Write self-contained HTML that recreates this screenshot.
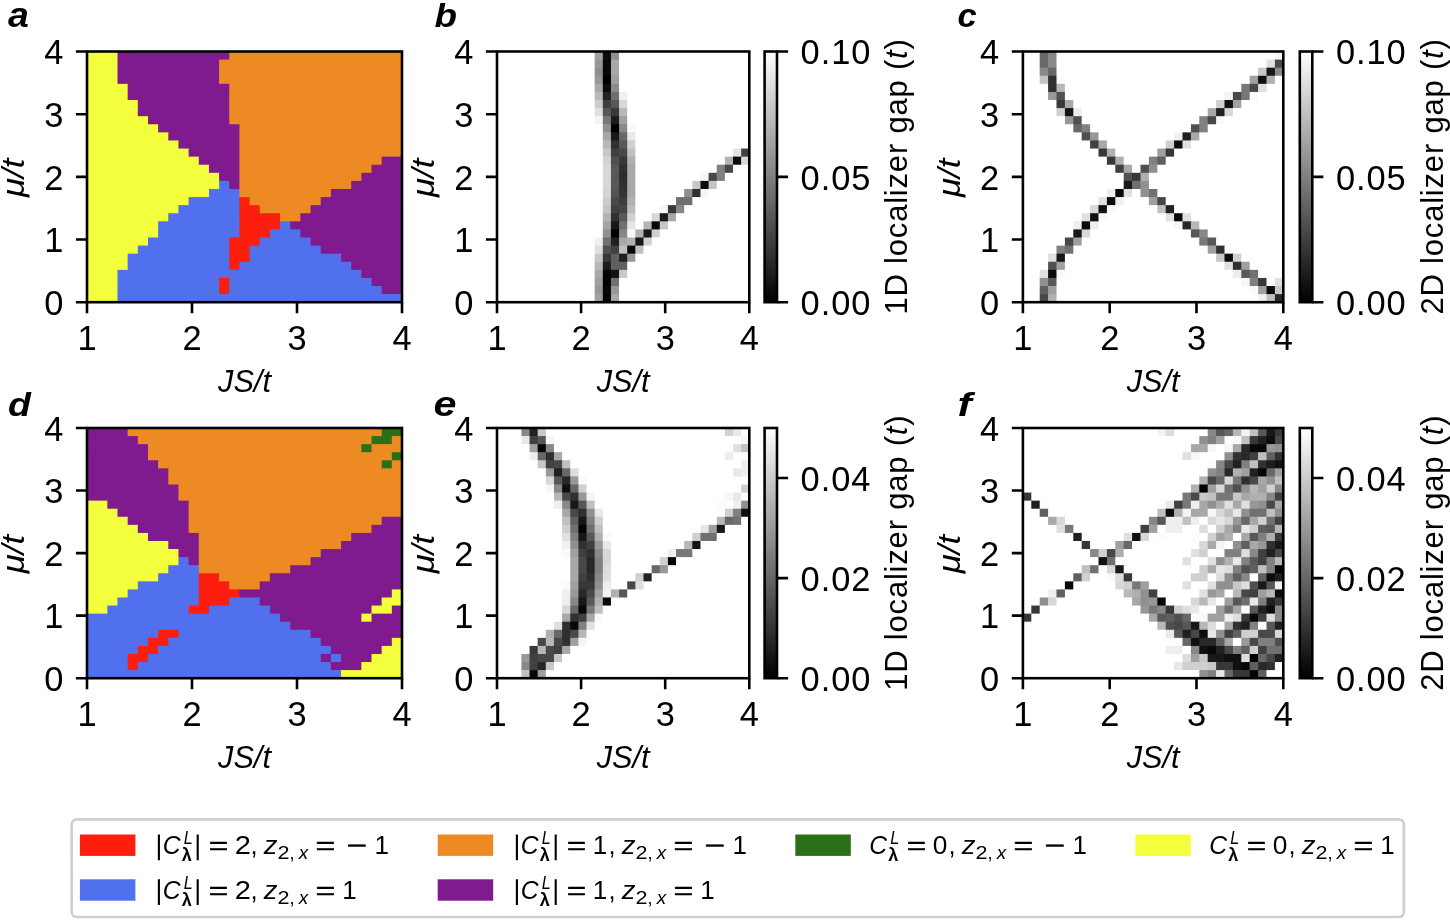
<!DOCTYPE html>
<html><head><meta charset="utf-8"><title>figure</title>
<style>html,body{margin:0;padding:0;background:#fff;}svg{display:block;will-change:transform;}</style></head>
<body>
<svg width="1450" height="922" viewBox="0 0 1450 922" font-family='"Liberation Sans", sans-serif' fill="#000">
<defs><linearGradient id="gr" x1="0" y1="1" x2="0" y2="0"><stop offset="0" stop-color="#000"/><stop offset="1" stop-color="#fff"/></linearGradient></defs>
<rect width="1450" height="922" fill="#fff"/>
<g>
<g><rect x="87" y="51.5" width="31.18" height="8.79" fill="#f3ff3d"/><rect x="117.48" y="51.5" width="112.47" height="8.79" fill="#7f1a8f"/><rect x="229.26" y="51.5" width="172.74" height="8.79" fill="#ee8a23"/><rect x="87" y="59.59" width="31.18" height="8.79" fill="#f3ff3d"/><rect x="117.48" y="59.59" width="102.31" height="8.79" fill="#7f1a8f"/><rect x="219.1" y="59.59" width="182.9" height="8.79" fill="#ee8a23"/><rect x="87" y="67.67" width="31.18" height="8.79" fill="#f3ff3d"/><rect x="117.48" y="67.67" width="102.31" height="8.79" fill="#7f1a8f"/><rect x="219.1" y="67.67" width="182.9" height="8.79" fill="#ee8a23"/><rect x="87" y="75.76" width="31.18" height="8.79" fill="#f3ff3d"/><rect x="117.48" y="75.76" width="102.31" height="8.79" fill="#7f1a8f"/><rect x="219.1" y="75.76" width="182.9" height="8.79" fill="#ee8a23"/><rect x="87" y="83.85" width="41.35" height="8.79" fill="#f3ff3d"/><rect x="127.65" y="83.85" width="102.31" height="8.79" fill="#7f1a8f"/><rect x="229.26" y="83.85" width="172.74" height="8.79" fill="#ee8a23"/><rect x="87" y="91.94" width="41.35" height="8.79" fill="#f3ff3d"/><rect x="127.65" y="91.94" width="102.31" height="8.79" fill="#7f1a8f"/><rect x="229.26" y="91.94" width="172.74" height="8.79" fill="#ee8a23"/><rect x="87" y="100.02" width="51.51" height="8.79" fill="#f3ff3d"/><rect x="137.81" y="100.02" width="92.15" height="8.79" fill="#7f1a8f"/><rect x="229.26" y="100.02" width="172.74" height="8.79" fill="#ee8a23"/><rect x="87" y="108.11" width="51.51" height="8.79" fill="#f3ff3d"/><rect x="137.81" y="108.11" width="92.15" height="8.79" fill="#7f1a8f"/><rect x="229.26" y="108.11" width="172.74" height="8.79" fill="#ee8a23"/><rect x="87" y="116.2" width="61.67" height="8.79" fill="#f3ff3d"/><rect x="147.97" y="116.2" width="81.99" height="8.79" fill="#7f1a8f"/><rect x="229.26" y="116.2" width="172.74" height="8.79" fill="#ee8a23"/><rect x="87" y="124.28" width="71.83" height="8.79" fill="#f3ff3d"/><rect x="158.13" y="124.28" width="81.99" height="8.79" fill="#7f1a8f"/><rect x="239.42" y="124.28" width="162.58" height="8.79" fill="#ee8a23"/><rect x="87" y="132.37" width="81.99" height="8.79" fill="#f3ff3d"/><rect x="168.29" y="132.37" width="71.83" height="8.79" fill="#7f1a8f"/><rect x="239.42" y="132.37" width="162.58" height="8.79" fill="#ee8a23"/><rect x="87" y="140.46" width="92.15" height="8.79" fill="#f3ff3d"/><rect x="178.45" y="140.46" width="61.67" height="8.79" fill="#7f1a8f"/><rect x="239.42" y="140.46" width="162.58" height="8.79" fill="#ee8a23"/><rect x="87" y="148.55" width="102.31" height="8.79" fill="#f3ff3d"/><rect x="188.61" y="148.55" width="51.51" height="8.79" fill="#7f1a8f"/><rect x="239.42" y="148.55" width="162.58" height="8.79" fill="#ee8a23"/><rect x="87" y="156.63" width="112.47" height="8.79" fill="#f3ff3d"/><rect x="198.77" y="156.63" width="41.35" height="8.79" fill="#7f1a8f"/><rect x="239.42" y="156.63" width="142.96" height="8.79" fill="#ee8a23"/><rect x="381.68" y="156.63" width="20.32" height="8.79" fill="#7f1a8f"/><rect x="87" y="164.72" width="122.64" height="8.79" fill="#f3ff3d"/><rect x="208.94" y="164.72" width="31.18" height="8.79" fill="#7f1a8f"/><rect x="239.42" y="164.72" width="132.8" height="8.79" fill="#ee8a23"/><rect x="371.52" y="164.72" width="30.48" height="8.79" fill="#7f1a8f"/><rect x="87" y="172.81" width="132.8" height="8.79" fill="#f3ff3d"/><rect x="219.1" y="172.81" width="21.02" height="8.79" fill="#7f1a8f"/><rect x="239.42" y="172.81" width="122.64" height="8.79" fill="#ee8a23"/><rect x="361.35" y="172.81" width="40.65" height="8.79" fill="#7f1a8f"/><rect x="87" y="180.89" width="132.8" height="8.79" fill="#f3ff3d"/><rect x="219.1" y="180.89" width="10.86" height="8.79" fill="#5170ee"/><rect x="229.26" y="180.89" width="10.86" height="8.79" fill="#7f1a8f"/><rect x="239.42" y="180.89" width="112.47" height="8.79" fill="#ee8a23"/><rect x="351.19" y="180.89" width="50.81" height="8.79" fill="#7f1a8f"/><rect x="87" y="188.98" width="122.64" height="8.79" fill="#f3ff3d"/><rect x="208.94" y="188.98" width="31.18" height="8.79" fill="#5170ee"/><rect x="239.42" y="188.98" width="92.15" height="8.79" fill="#ee8a23"/><rect x="330.87" y="188.98" width="71.13" height="8.79" fill="#7f1a8f"/><rect x="87" y="197.07" width="102.31" height="8.79" fill="#f3ff3d"/><rect x="188.61" y="197.07" width="51.51" height="8.79" fill="#5170ee"/><rect x="239.42" y="197.07" width="10.86" height="8.79" fill="#fe1e0d"/><rect x="249.58" y="197.07" width="71.83" height="8.79" fill="#ee8a23"/><rect x="320.71" y="197.07" width="81.29" height="8.79" fill="#7f1a8f"/><rect x="87" y="205.15" width="92.15" height="8.79" fill="#f3ff3d"/><rect x="178.45" y="205.15" width="61.67" height="8.79" fill="#5170ee"/><rect x="239.42" y="205.15" width="21.02" height="8.79" fill="#fe1e0d"/><rect x="259.74" y="205.15" width="51.51" height="8.79" fill="#ee8a23"/><rect x="310.55" y="205.15" width="91.45" height="8.79" fill="#7f1a8f"/><rect x="87" y="213.24" width="81.99" height="8.79" fill="#f3ff3d"/><rect x="168.29" y="213.24" width="71.83" height="8.79" fill="#5170ee"/><rect x="239.42" y="213.24" width="41.35" height="8.79" fill="#fe1e0d"/><rect x="280.06" y="213.24" width="21.02" height="8.79" fill="#ee8a23"/><rect x="300.39" y="213.24" width="101.61" height="8.79" fill="#7f1a8f"/><rect x="87" y="221.33" width="71.83" height="8.79" fill="#f3ff3d"/><rect x="158.13" y="221.33" width="81.99" height="8.79" fill="#5170ee"/><rect x="239.42" y="221.33" width="41.35" height="8.79" fill="#fe1e0d"/><rect x="280.06" y="221.33" width="10.86" height="8.79" fill="#5170ee"/><rect x="290.23" y="221.33" width="111.77" height="8.79" fill="#7f1a8f"/><rect x="87" y="229.42" width="71.83" height="8.79" fill="#f3ff3d"/><rect x="158.13" y="229.42" width="81.99" height="8.79" fill="#5170ee"/><rect x="239.42" y="229.42" width="31.18" height="8.79" fill="#fe1e0d"/><rect x="269.9" y="229.42" width="31.18" height="8.79" fill="#5170ee"/><rect x="300.39" y="229.42" width="101.61" height="8.79" fill="#7f1a8f"/><rect x="87" y="237.5" width="61.67" height="8.79" fill="#f3ff3d"/><rect x="147.97" y="237.5" width="81.99" height="8.79" fill="#5170ee"/><rect x="229.26" y="237.5" width="31.18" height="8.79" fill="#fe1e0d"/><rect x="259.74" y="237.5" width="51.51" height="8.79" fill="#5170ee"/><rect x="310.55" y="237.5" width="91.45" height="8.79" fill="#7f1a8f"/><rect x="87" y="245.59" width="51.51" height="8.79" fill="#f3ff3d"/><rect x="137.81" y="245.59" width="92.15" height="8.79" fill="#5170ee"/><rect x="229.26" y="245.59" width="21.02" height="8.79" fill="#fe1e0d"/><rect x="249.58" y="245.59" width="71.83" height="8.79" fill="#5170ee"/><rect x="320.71" y="245.59" width="81.29" height="8.79" fill="#7f1a8f"/><rect x="87" y="253.68" width="41.35" height="8.79" fill="#f3ff3d"/><rect x="127.65" y="253.68" width="102.31" height="8.79" fill="#5170ee"/><rect x="229.26" y="253.68" width="21.02" height="8.79" fill="#fe1e0d"/><rect x="249.58" y="253.68" width="92.15" height="8.79" fill="#5170ee"/><rect x="341.03" y="253.68" width="60.97" height="8.79" fill="#7f1a8f"/><rect x="87" y="261.76" width="41.35" height="8.79" fill="#f3ff3d"/><rect x="127.65" y="261.76" width="102.31" height="8.79" fill="#5170ee"/><rect x="229.26" y="261.76" width="10.86" height="8.79" fill="#fe1e0d"/><rect x="239.42" y="261.76" width="112.47" height="8.79" fill="#5170ee"/><rect x="351.19" y="261.76" width="50.81" height="8.79" fill="#7f1a8f"/><rect x="87" y="269.85" width="31.18" height="8.79" fill="#f3ff3d"/><rect x="117.48" y="269.85" width="244.57" height="8.79" fill="#5170ee"/><rect x="361.35" y="269.85" width="40.65" height="8.79" fill="#7f1a8f"/><rect x="87" y="277.94" width="31.18" height="8.79" fill="#f3ff3d"/><rect x="117.48" y="277.94" width="102.31" height="8.79" fill="#5170ee"/><rect x="219.1" y="277.94" width="10.86" height="8.79" fill="#fe1e0d"/><rect x="229.26" y="277.94" width="142.96" height="8.79" fill="#5170ee"/><rect x="371.52" y="277.94" width="30.48" height="8.79" fill="#7f1a8f"/><rect x="87" y="286.03" width="31.18" height="8.79" fill="#f3ff3d"/><rect x="117.48" y="286.03" width="102.31" height="8.79" fill="#5170ee"/><rect x="219.1" y="286.03" width="10.86" height="8.79" fill="#fe1e0d"/><rect x="229.26" y="286.03" width="153.12" height="8.79" fill="#5170ee"/><rect x="381.68" y="286.03" width="20.32" height="8.79" fill="#7f1a8f"/><rect x="87" y="294.11" width="31.18" height="8.09" fill="#f3ff3d"/><rect x="117.48" y="294.11" width="284.52" height="8.09" fill="#5170ee"/></g>
<g><rect x="87" y="428" width="41.35" height="8.77" fill="#7f1a8f"/><rect x="127.65" y="428" width="254.73" height="8.77" fill="#ee8a23"/><rect x="381.68" y="428" width="20.32" height="8.77" fill="#2b6f17"/><rect x="87" y="436.07" width="51.51" height="8.77" fill="#7f1a8f"/><rect x="137.81" y="436.07" width="234.41" height="8.77" fill="#ee8a23"/><rect x="371.52" y="436.07" width="21.02" height="8.77" fill="#2b6f17"/><rect x="391.84" y="436.07" width="10.16" height="8.77" fill="#ee8a23"/><rect x="87" y="444.14" width="61.67" height="8.77" fill="#7f1a8f"/><rect x="147.97" y="444.14" width="214.09" height="8.77" fill="#ee8a23"/><rect x="361.35" y="444.14" width="10.86" height="8.77" fill="#2b6f17"/><rect x="371.52" y="444.14" width="30.48" height="8.77" fill="#ee8a23"/><rect x="87" y="452.21" width="61.67" height="8.77" fill="#7f1a8f"/><rect x="147.97" y="452.21" width="244.57" height="8.77" fill="#ee8a23"/><rect x="391.84" y="452.21" width="10.16" height="8.77" fill="#2b6f17"/><rect x="87" y="460.28" width="71.83" height="8.77" fill="#7f1a8f"/><rect x="158.13" y="460.28" width="224.25" height="8.77" fill="#ee8a23"/><rect x="381.68" y="460.28" width="10.86" height="8.77" fill="#2b6f17"/><rect x="391.84" y="460.28" width="10.16" height="8.77" fill="#ee8a23"/><rect x="87" y="468.35" width="81.99" height="8.77" fill="#7f1a8f"/><rect x="168.29" y="468.35" width="233.71" height="8.77" fill="#ee8a23"/><rect x="87" y="476.43" width="81.99" height="8.77" fill="#7f1a8f"/><rect x="168.29" y="476.43" width="233.71" height="8.77" fill="#ee8a23"/><rect x="87" y="484.5" width="92.15" height="8.77" fill="#7f1a8f"/><rect x="178.45" y="484.5" width="223.55" height="8.77" fill="#ee8a23"/><rect x="87" y="492.57" width="92.15" height="8.77" fill="#7f1a8f"/><rect x="178.45" y="492.57" width="223.55" height="8.77" fill="#ee8a23"/><rect x="87" y="500.64" width="21.02" height="8.77" fill="#f3ff3d"/><rect x="107.32" y="500.64" width="81.99" height="8.77" fill="#7f1a8f"/><rect x="188.61" y="500.64" width="213.39" height="8.77" fill="#ee8a23"/><rect x="87" y="508.71" width="31.18" height="8.77" fill="#f3ff3d"/><rect x="117.48" y="508.71" width="71.83" height="8.77" fill="#7f1a8f"/><rect x="188.61" y="508.71" width="213.39" height="8.77" fill="#ee8a23"/><rect x="87" y="516.78" width="41.35" height="8.77" fill="#f3ff3d"/><rect x="127.65" y="516.78" width="61.67" height="8.77" fill="#7f1a8f"/><rect x="188.61" y="516.78" width="193.76" height="8.77" fill="#ee8a23"/><rect x="381.68" y="516.78" width="20.32" height="8.77" fill="#7f1a8f"/><rect x="87" y="524.85" width="51.51" height="8.77" fill="#f3ff3d"/><rect x="137.81" y="524.85" width="51.51" height="8.77" fill="#7f1a8f"/><rect x="188.61" y="524.85" width="183.6" height="8.77" fill="#ee8a23"/><rect x="371.52" y="524.85" width="30.48" height="8.77" fill="#7f1a8f"/><rect x="87" y="532.92" width="61.67" height="8.77" fill="#f3ff3d"/><rect x="147.97" y="532.92" width="51.51" height="8.77" fill="#7f1a8f"/><rect x="198.77" y="532.92" width="153.12" height="8.77" fill="#ee8a23"/><rect x="351.19" y="532.92" width="50.81" height="8.77" fill="#7f1a8f"/><rect x="87" y="540.99" width="81.99" height="8.77" fill="#f3ff3d"/><rect x="168.29" y="540.99" width="31.18" height="8.77" fill="#7f1a8f"/><rect x="198.77" y="540.99" width="142.96" height="8.77" fill="#ee8a23"/><rect x="341.03" y="540.99" width="60.97" height="8.77" fill="#7f1a8f"/><rect x="87" y="549.06" width="92.15" height="8.77" fill="#f3ff3d"/><rect x="178.45" y="549.06" width="21.02" height="8.77" fill="#7f1a8f"/><rect x="198.77" y="549.06" width="122.64" height="8.77" fill="#ee8a23"/><rect x="320.71" y="549.06" width="81.29" height="8.77" fill="#7f1a8f"/><rect x="87" y="557.14" width="92.15" height="8.77" fill="#f3ff3d"/><rect x="178.45" y="557.14" width="10.86" height="8.77" fill="#5170ee"/><rect x="188.61" y="557.14" width="10.86" height="8.77" fill="#7f1a8f"/><rect x="198.77" y="557.14" width="112.47" height="8.77" fill="#ee8a23"/><rect x="310.55" y="557.14" width="91.45" height="8.77" fill="#7f1a8f"/><rect x="87" y="565.21" width="81.99" height="8.77" fill="#f3ff3d"/><rect x="168.29" y="565.21" width="31.18" height="8.77" fill="#5170ee"/><rect x="198.77" y="565.21" width="92.15" height="8.77" fill="#ee8a23"/><rect x="290.23" y="565.21" width="111.77" height="8.77" fill="#7f1a8f"/><rect x="87" y="573.28" width="71.83" height="8.77" fill="#f3ff3d"/><rect x="158.13" y="573.28" width="41.35" height="8.77" fill="#5170ee"/><rect x="198.77" y="573.28" width="21.02" height="8.77" fill="#fe1e0d"/><rect x="219.1" y="573.28" width="51.51" height="8.77" fill="#ee8a23"/><rect x="269.9" y="573.28" width="132.1" height="8.77" fill="#7f1a8f"/><rect x="87" y="581.35" width="51.51" height="8.77" fill="#f3ff3d"/><rect x="137.81" y="581.35" width="61.67" height="8.77" fill="#5170ee"/><rect x="198.77" y="581.35" width="31.18" height="8.77" fill="#fe1e0d"/><rect x="229.26" y="581.35" width="31.18" height="8.77" fill="#ee8a23"/><rect x="259.74" y="581.35" width="142.26" height="8.77" fill="#7f1a8f"/><rect x="87" y="589.42" width="41.35" height="8.77" fill="#f3ff3d"/><rect x="127.65" y="589.42" width="71.83" height="8.77" fill="#5170ee"/><rect x="198.77" y="589.42" width="41.35" height="8.77" fill="#fe1e0d"/><rect x="239.42" y="589.42" width="153.12" height="8.77" fill="#7f1a8f"/><rect x="391.84" y="589.42" width="10.16" height="8.77" fill="#f3ff3d"/><rect x="87" y="597.49" width="31.18" height="8.77" fill="#f3ff3d"/><rect x="117.48" y="597.49" width="81.99" height="8.77" fill="#5170ee"/><rect x="198.77" y="597.49" width="31.18" height="8.77" fill="#fe1e0d"/><rect x="229.26" y="597.49" width="31.18" height="8.77" fill="#5170ee"/><rect x="259.74" y="597.49" width="122.64" height="8.77" fill="#7f1a8f"/><rect x="381.68" y="597.49" width="20.32" height="8.77" fill="#f3ff3d"/><rect x="87" y="605.56" width="21.02" height="8.77" fill="#f3ff3d"/><rect x="107.32" y="605.56" width="81.99" height="8.77" fill="#5170ee"/><rect x="188.61" y="605.56" width="21.02" height="8.77" fill="#fe1e0d"/><rect x="208.94" y="605.56" width="61.67" height="8.77" fill="#5170ee"/><rect x="269.9" y="605.56" width="102.31" height="8.77" fill="#7f1a8f"/><rect x="371.52" y="605.56" width="21.02" height="8.77" fill="#f3ff3d"/><rect x="391.84" y="605.56" width="10.16" height="8.77" fill="#7f1a8f"/><rect x="87" y="613.63" width="193.76" height="8.77" fill="#5170ee"/><rect x="280.06" y="613.63" width="81.99" height="8.77" fill="#7f1a8f"/><rect x="361.35" y="613.63" width="10.86" height="8.77" fill="#f3ff3d"/><rect x="371.52" y="613.63" width="30.48" height="8.77" fill="#7f1a8f"/><rect x="87" y="621.7" width="203.93" height="8.77" fill="#5170ee"/><rect x="290.23" y="621.7" width="111.77" height="8.77" fill="#7f1a8f"/><rect x="87" y="629.77" width="71.83" height="8.77" fill="#5170ee"/><rect x="158.13" y="629.77" width="21.02" height="8.77" fill="#fe1e0d"/><rect x="178.45" y="629.77" width="132.8" height="8.77" fill="#5170ee"/><rect x="310.55" y="629.77" width="91.45" height="8.77" fill="#7f1a8f"/><rect x="87" y="637.85" width="61.67" height="8.77" fill="#5170ee"/><rect x="147.97" y="637.85" width="21.02" height="8.77" fill="#fe1e0d"/><rect x="168.29" y="637.85" width="153.12" height="8.77" fill="#5170ee"/><rect x="320.71" y="637.85" width="71.83" height="8.77" fill="#7f1a8f"/><rect x="391.84" y="637.85" width="10.16" height="8.77" fill="#f3ff3d"/><rect x="87" y="645.92" width="51.51" height="8.77" fill="#5170ee"/><rect x="137.81" y="645.92" width="21.02" height="8.77" fill="#fe1e0d"/><rect x="158.13" y="645.92" width="173.44" height="8.77" fill="#5170ee"/><rect x="330.87" y="645.92" width="51.51" height="8.77" fill="#7f1a8f"/><rect x="381.68" y="645.92" width="20.32" height="8.77" fill="#f3ff3d"/><rect x="87" y="653.99" width="41.35" height="8.77" fill="#5170ee"/><rect x="127.65" y="653.99" width="21.02" height="8.77" fill="#fe1e0d"/><rect x="147.97" y="653.99" width="173.44" height="8.77" fill="#5170ee"/><rect x="320.71" y="653.99" width="10.86" height="8.77" fill="#7f1a8f"/><rect x="330.87" y="653.99" width="10.86" height="8.77" fill="#5170ee"/><rect x="341.03" y="653.99" width="31.18" height="8.77" fill="#7f1a8f"/><rect x="371.52" y="653.99" width="30.48" height="8.77" fill="#f3ff3d"/><rect x="87" y="662.06" width="41.35" height="8.77" fill="#5170ee"/><rect x="127.65" y="662.06" width="10.86" height="8.77" fill="#fe1e0d"/><rect x="137.81" y="662.06" width="193.76" height="8.77" fill="#5170ee"/><rect x="330.87" y="662.06" width="31.18" height="8.77" fill="#7f1a8f"/><rect x="361.35" y="662.06" width="40.65" height="8.77" fill="#f3ff3d"/><rect x="87" y="670.13" width="254.73" height="8.07" fill="#5170ee"/><rect x="341.03" y="670.13" width="60.97" height="8.07" fill="#f3ff3d"/></g>
<g><rect x="497" y="51.5" width="98.36" height="8.79" fill="#ffffff"/><rect x="594.66" y="51.5" width="8.84" height="8.79" fill="#a0a0a0"/><rect x="602.8" y="51.5" width="8.84" height="8.79" fill="#0c0c0c"/><rect x="610.94" y="51.5" width="8.84" height="8.79" fill="#909090"/><rect x="619.08" y="51.5" width="130.22" height="8.79" fill="#ffffff"/><rect x="497" y="59.59" width="98.36" height="8.79" fill="#ffffff"/><rect x="594.66" y="59.59" width="8.84" height="8.79" fill="#989898"/><rect x="602.8" y="59.59" width="8.84" height="8.79" fill="#080808"/><rect x="610.94" y="59.59" width="8.84" height="8.79" fill="#a8a8a8"/><rect x="619.08" y="59.59" width="130.22" height="8.79" fill="#ffffff"/><rect x="497" y="67.67" width="98.36" height="8.79" fill="#ffffff"/><rect x="594.66" y="67.67" width="8.84" height="8.79" fill="#909090"/><rect x="602.8" y="67.67" width="8.84" height="8.79" fill="#080808"/><rect x="610.94" y="67.67" width="8.84" height="8.79" fill="#a8a8a8"/><rect x="619.08" y="67.67" width="130.22" height="8.79" fill="#ffffff"/><rect x="497" y="75.76" width="98.36" height="8.79" fill="#ffffff"/><rect x="594.66" y="75.76" width="8.84" height="8.79" fill="#989898"/><rect x="602.8" y="75.76" width="8.84" height="8.79" fill="#000000"/><rect x="610.94" y="75.76" width="8.84" height="8.79" fill="#a0a0a0"/><rect x="619.08" y="75.76" width="130.22" height="8.79" fill="#ffffff"/><rect x="497" y="83.85" width="98.36" height="8.79" fill="#ffffff"/><rect x="594.66" y="83.85" width="8.84" height="8.79" fill="#a8a8a8"/><rect x="602.8" y="83.85" width="8.84" height="8.79" fill="#0c0c0c"/><rect x="610.94" y="83.85" width="8.84" height="8.79" fill="#8c8c8c"/><rect x="619.08" y="83.85" width="130.22" height="8.79" fill="#ffffff"/><rect x="497" y="91.94" width="98.36" height="8.79" fill="#ffffff"/><rect x="594.66" y="91.94" width="8.84" height="8.79" fill="#b8b8b8"/><rect x="602.8" y="91.94" width="8.84" height="8.79" fill="#222222"/><rect x="610.94" y="91.94" width="8.84" height="8.79" fill="#707070"/><rect x="619.08" y="91.94" width="8.84" height="8.79" fill="#f0f0f0"/><rect x="627.22" y="91.94" width="122.08" height="8.79" fill="#ffffff"/><rect x="497" y="100.02" width="98.36" height="8.79" fill="#ffffff"/><rect x="594.66" y="100.02" width="8.84" height="8.79" fill="#cccccc"/><rect x="602.8" y="100.02" width="8.84" height="8.79" fill="#404040"/><rect x="610.94" y="100.02" width="8.84" height="8.79" fill="#585858"/><rect x="619.08" y="100.02" width="8.84" height="8.79" fill="#d8d8d8"/><rect x="627.22" y="100.02" width="122.08" height="8.79" fill="#ffffff"/><rect x="497" y="108.11" width="98.36" height="8.79" fill="#ffffff"/><rect x="594.66" y="108.11" width="8.84" height="8.79" fill="#e0e0e0"/><rect x="602.8" y="108.11" width="8.84" height="8.79" fill="#585858"/><rect x="610.94" y="108.11" width="8.84" height="8.79" fill="#383838"/><rect x="619.08" y="108.11" width="8.84" height="8.79" fill="#b8b8b8"/><rect x="627.22" y="108.11" width="122.08" height="8.79" fill="#ffffff"/><rect x="497" y="116.2" width="98.36" height="8.79" fill="#ffffff"/><rect x="594.66" y="116.2" width="8.84" height="8.79" fill="#f4f4f4"/><rect x="602.8" y="116.2" width="8.84" height="8.79" fill="#787878"/><rect x="610.94" y="116.2" width="8.84" height="8.79" fill="#1c1c1c"/><rect x="619.08" y="116.2" width="8.84" height="8.79" fill="#a0a0a0"/><rect x="627.22" y="116.2" width="122.08" height="8.79" fill="#ffffff"/><rect x="497" y="124.28" width="106.5" height="8.79" fill="#ffffff"/><rect x="602.8" y="124.28" width="8.84" height="8.79" fill="#909090"/><rect x="610.94" y="124.28" width="8.84" height="8.79" fill="#000000"/><rect x="619.08" y="124.28" width="8.84" height="8.79" fill="#888888"/><rect x="627.22" y="124.28" width="8.84" height="8.79" fill="#fafafa"/><rect x="635.36" y="124.28" width="113.94" height="8.79" fill="#ffffff"/><rect x="497" y="132.37" width="106.5" height="8.79" fill="#ffffff"/><rect x="602.8" y="132.37" width="8.84" height="8.79" fill="#a8a8a8"/><rect x="610.94" y="132.37" width="8.84" height="8.79" fill="#1a1a1a"/><rect x="619.08" y="132.37" width="8.84" height="8.79" fill="#686868"/><rect x="627.22" y="132.37" width="8.84" height="8.79" fill="#e8e8e8"/><rect x="635.36" y="132.37" width="113.94" height="8.79" fill="#ffffff"/><rect x="497" y="140.46" width="106.5" height="8.79" fill="#ffffff"/><rect x="602.8" y="140.46" width="8.84" height="8.79" fill="#b8b8b8"/><rect x="610.94" y="140.46" width="8.84" height="8.79" fill="#303030"/><rect x="619.08" y="140.46" width="8.84" height="8.79" fill="#585858"/><rect x="627.22" y="140.46" width="8.84" height="8.79" fill="#d0d0d0"/><rect x="635.36" y="140.46" width="113.94" height="8.79" fill="#ffffff"/><rect x="497" y="148.55" width="106.5" height="8.79" fill="#ffffff"/><rect x="602.8" y="148.55" width="8.84" height="8.79" fill="#c8c8c8"/><rect x="610.94" y="148.55" width="8.84" height="8.79" fill="#404040"/><rect x="619.08" y="148.55" width="8.84" height="8.79" fill="#484848"/><rect x="627.22" y="148.55" width="8.84" height="8.79" fill="#c0c0c0"/><rect x="635.36" y="148.55" width="98.36" height="8.79" fill="#ffffff"/><rect x="733.02" y="148.55" width="8.84" height="8.79" fill="#e4e4e4"/><rect x="741.16" y="148.55" width="8.14" height="8.79" fill="#404040"/><rect x="497" y="156.63" width="106.5" height="8.79" fill="#ffffff"/><rect x="602.8" y="156.63" width="8.84" height="8.79" fill="#d4d4d4"/><rect x="610.94" y="156.63" width="8.84" height="8.79" fill="#505050"/><rect x="619.08" y="156.63" width="8.84" height="8.79" fill="#383838"/><rect x="627.22" y="156.63" width="8.84" height="8.79" fill="#b0b0b0"/><rect x="635.36" y="156.63" width="90.23" height="8.79" fill="#ffffff"/><rect x="724.88" y="156.63" width="8.84" height="8.79" fill="#b4b4b4"/><rect x="733.02" y="156.63" width="8.84" height="8.79" fill="#0c0c0c"/><rect x="741.16" y="156.63" width="8.14" height="8.79" fill="#d8d8d8"/><rect x="497" y="164.72" width="106.5" height="8.79" fill="#ffffff"/><rect x="602.8" y="164.72" width="8.84" height="8.79" fill="#d8d8d8"/><rect x="610.94" y="164.72" width="8.84" height="8.79" fill="#585858"/><rect x="619.08" y="164.72" width="8.84" height="8.79" fill="#303030"/><rect x="627.22" y="164.72" width="8.84" height="8.79" fill="#a8a8a8"/><rect x="635.36" y="164.72" width="82.09" height="8.79" fill="#ffffff"/><rect x="716.75" y="164.72" width="8.84" height="8.79" fill="#808080"/><rect x="724.88" y="164.72" width="8.84" height="8.79" fill="#484848"/><rect x="733.02" y="164.72" width="16.28" height="8.79" fill="#ffffff"/><rect x="497" y="172.81" width="106.5" height="8.79" fill="#ffffff"/><rect x="602.8" y="172.81" width="8.84" height="8.79" fill="#d8d8d8"/><rect x="610.94" y="172.81" width="8.84" height="8.79" fill="#585858"/><rect x="619.08" y="172.81" width="8.84" height="8.79" fill="#2c2c2c"/><rect x="627.22" y="172.81" width="8.84" height="8.79" fill="#a8a8a8"/><rect x="635.36" y="172.81" width="65.81" height="8.79" fill="#ffffff"/><rect x="700.47" y="172.81" width="8.84" height="8.79" fill="#f4f4f4"/><rect x="708.61" y="172.81" width="8.84" height="8.79" fill="#484848"/><rect x="716.75" y="172.81" width="8.84" height="8.79" fill="#808080"/><rect x="724.88" y="172.81" width="24.42" height="8.79" fill="#ffffff"/><rect x="497" y="180.89" width="106.5" height="8.79" fill="#ffffff"/><rect x="602.8" y="180.89" width="8.84" height="8.79" fill="#d8d8d8"/><rect x="610.94" y="180.89" width="8.84" height="8.79" fill="#585858"/><rect x="619.08" y="180.89" width="8.84" height="8.79" fill="#303030"/><rect x="627.22" y="180.89" width="8.84" height="8.79" fill="#a8a8a8"/><rect x="635.36" y="180.89" width="57.67" height="8.79" fill="#ffffff"/><rect x="692.33" y="180.89" width="8.84" height="8.79" fill="#c8c8c8"/><rect x="700.47" y="180.89" width="8.84" height="8.79" fill="#0c0c0c"/><rect x="708.61" y="180.89" width="8.84" height="8.79" fill="#c4c4c4"/><rect x="716.75" y="180.89" width="32.55" height="8.79" fill="#ffffff"/><rect x="497" y="188.98" width="106.5" height="8.79" fill="#ffffff"/><rect x="602.8" y="188.98" width="8.84" height="8.79" fill="#d4d4d4"/><rect x="610.94" y="188.98" width="8.84" height="8.79" fill="#545454"/><rect x="619.08" y="188.98" width="8.84" height="8.79" fill="#343434"/><rect x="627.22" y="188.98" width="8.84" height="8.79" fill="#a8a8a8"/><rect x="635.36" y="188.98" width="49.53" height="8.79" fill="#ffffff"/><rect x="684.19" y="188.98" width="8.84" height="8.79" fill="#909090"/><rect x="692.33" y="188.98" width="8.84" height="8.79" fill="#303030"/><rect x="700.47" y="188.98" width="8.84" height="8.79" fill="#f6f6f6"/><rect x="708.61" y="188.98" width="40.69" height="8.79" fill="#ffffff"/><rect x="497" y="197.07" width="106.5" height="8.79" fill="#ffffff"/><rect x="602.8" y="197.07" width="8.84" height="8.79" fill="#cccccc"/><rect x="610.94" y="197.07" width="8.84" height="8.79" fill="#484848"/><rect x="619.08" y="197.07" width="8.84" height="8.79" fill="#3c3c3c"/><rect x="627.22" y="197.07" width="8.84" height="8.79" fill="#b0b0b0"/><rect x="635.36" y="197.07" width="41.39" height="8.79" fill="#ffffff"/><rect x="676.05" y="197.07" width="16.98" height="8.79" fill="#707070"/><rect x="692.33" y="197.07" width="56.97" height="8.79" fill="#ffffff"/><rect x="497" y="205.15" width="106.5" height="8.79" fill="#ffffff"/><rect x="602.8" y="205.15" width="8.84" height="8.79" fill="#c4c4c4"/><rect x="610.94" y="205.15" width="8.84" height="8.79" fill="#404040"/><rect x="619.08" y="205.15" width="8.84" height="8.79" fill="#444444"/><rect x="627.22" y="205.15" width="8.84" height="8.79" fill="#bcbcbc"/><rect x="635.36" y="205.15" width="25.12" height="8.79" fill="#ffffff"/><rect x="659.77" y="205.15" width="8.84" height="8.79" fill="#f6f6f6"/><rect x="667.91" y="205.15" width="8.84" height="8.79" fill="#383838"/><rect x="676.05" y="205.15" width="8.84" height="8.79" fill="#888888"/><rect x="684.19" y="205.15" width="65.11" height="8.79" fill="#ffffff"/><rect x="497" y="213.24" width="106.5" height="8.79" fill="#ffffff"/><rect x="602.8" y="213.24" width="8.84" height="8.79" fill="#b4b4b4"/><rect x="610.94" y="213.24" width="8.84" height="8.79" fill="#303030"/><rect x="619.08" y="213.24" width="8.84" height="8.79" fill="#585858"/><rect x="627.22" y="213.24" width="8.84" height="8.79" fill="#d0d0d0"/><rect x="635.36" y="213.24" width="16.98" height="8.79" fill="#ffffff"/><rect x="651.64" y="213.24" width="8.84" height="8.79" fill="#d8d8d8"/><rect x="659.77" y="213.24" width="8.84" height="8.79" fill="#181818"/><rect x="667.91" y="213.24" width="8.84" height="8.79" fill="#a8a8a8"/><rect x="676.05" y="213.24" width="73.25" height="8.79" fill="#ffffff"/><rect x="497" y="221.33" width="106.5" height="8.79" fill="#ffffff"/><rect x="602.8" y="221.33" width="8.84" height="8.79" fill="#a4a4a4"/><rect x="610.94" y="221.33" width="8.84" height="8.79" fill="#181818"/><rect x="619.08" y="221.33" width="8.84" height="8.79" fill="#707070"/><rect x="627.22" y="221.33" width="8.84" height="8.79" fill="#e4e4e4"/><rect x="635.36" y="221.33" width="8.84" height="8.79" fill="#ffffff"/><rect x="643.5" y="221.33" width="8.84" height="8.79" fill="#b4b4b4"/><rect x="651.64" y="221.33" width="8.84" height="8.79" fill="#080808"/><rect x="659.77" y="221.33" width="8.84" height="8.79" fill="#c6c6c6"/><rect x="667.91" y="221.33" width="81.39" height="8.79" fill="#ffffff"/><rect x="497" y="229.42" width="106.5" height="8.79" fill="#ffffff"/><rect x="602.8" y="229.42" width="8.84" height="8.79" fill="#909090"/><rect x="610.94" y="229.42" width="8.84" height="8.79" fill="#000000"/><rect x="619.08" y="229.42" width="8.84" height="8.79" fill="#888888"/><rect x="627.22" y="229.42" width="8.84" height="8.79" fill="#fafafa"/><rect x="635.36" y="229.42" width="8.84" height="8.79" fill="#b0b0b0"/><rect x="643.5" y="229.42" width="8.84" height="8.79" fill="#181818"/><rect x="651.64" y="229.42" width="8.84" height="8.79" fill="#d0d0d0"/><rect x="659.77" y="229.42" width="89.53" height="8.79" fill="#ffffff"/><rect x="497" y="237.5" width="98.36" height="8.79" fill="#ffffff"/><rect x="594.66" y="237.5" width="8.84" height="8.79" fill="#f0f0f0"/><rect x="602.8" y="237.5" width="8.84" height="8.79" fill="#707070"/><rect x="610.94" y="237.5" width="8.84" height="8.79" fill="#202020"/><rect x="619.08" y="237.5" width="8.84" height="8.79" fill="#a8a8a8"/><rect x="627.22" y="237.5" width="8.84" height="8.79" fill="#b0b0b0"/><rect x="635.36" y="237.5" width="8.84" height="8.79" fill="#181818"/><rect x="643.5" y="237.5" width="8.84" height="8.79" fill="#d0d0d0"/><rect x="651.64" y="237.5" width="97.66" height="8.79" fill="#ffffff"/><rect x="497" y="245.59" width="98.36" height="8.79" fill="#ffffff"/><rect x="594.66" y="245.59" width="8.84" height="8.79" fill="#e0e0e0"/><rect x="602.8" y="245.59" width="8.84" height="8.79" fill="#505050"/><rect x="610.94" y="245.59" width="8.84" height="8.79" fill="#404040"/><rect x="619.08" y="245.59" width="8.84" height="8.79" fill="#c0c0c0"/><rect x="627.22" y="245.59" width="8.84" height="8.79" fill="#080808"/><rect x="635.36" y="245.59" width="8.84" height="8.79" fill="#c0c0c0"/><rect x="643.5" y="245.59" width="105.8" height="8.79" fill="#ffffff"/><rect x="497" y="253.68" width="98.36" height="8.79" fill="#ffffff"/><rect x="594.66" y="253.68" width="8.84" height="8.79" fill="#c8c8c8"/><rect x="602.8" y="253.68" width="8.84" height="8.79" fill="#383838"/><rect x="610.94" y="253.68" width="8.84" height="8.79" fill="#606060"/><rect x="619.08" y="253.68" width="8.84" height="8.79" fill="#202020"/><rect x="627.22" y="253.68" width="8.84" height="8.79" fill="#989898"/><rect x="635.36" y="253.68" width="113.94" height="8.79" fill="#ffffff"/><rect x="497" y="261.76" width="98.36" height="8.79" fill="#ffffff"/><rect x="594.66" y="261.76" width="8.84" height="8.79" fill="#b8b8b8"/><rect x="602.8" y="261.76" width="8.84" height="8.79" fill="#1c1c1c"/><rect x="610.94" y="261.76" width="16.98" height="8.79" fill="#606060"/><rect x="627.22" y="261.76" width="122.08" height="8.79" fill="#ffffff"/><rect x="497" y="269.85" width="98.36" height="8.79" fill="#ffffff"/><rect x="594.66" y="269.85" width="8.84" height="8.79" fill="#a8a8a8"/><rect x="602.8" y="269.85" width="8.84" height="8.79" fill="#040404"/><rect x="610.94" y="269.85" width="8.84" height="8.79" fill="#141414"/><rect x="619.08" y="269.85" width="8.84" height="8.79" fill="#c8c8c8"/><rect x="627.22" y="269.85" width="122.08" height="8.79" fill="#ffffff"/><rect x="497" y="277.94" width="98.36" height="8.79" fill="#ffffff"/><rect x="594.66" y="277.94" width="8.84" height="8.79" fill="#a0a0a0"/><rect x="602.8" y="277.94" width="8.84" height="8.79" fill="#040404"/><rect x="610.94" y="277.94" width="8.84" height="8.79" fill="#707070"/><rect x="619.08" y="277.94" width="130.22" height="8.79" fill="#ffffff"/><rect x="497" y="286.03" width="98.36" height="8.79" fill="#ffffff"/><rect x="594.66" y="286.03" width="8.84" height="8.79" fill="#989898"/><rect x="602.8" y="286.03" width="8.84" height="8.79" fill="#080808"/><rect x="610.94" y="286.03" width="8.84" height="8.79" fill="#989898"/><rect x="619.08" y="286.03" width="130.22" height="8.79" fill="#ffffff"/><rect x="497" y="294.11" width="98.36" height="8.09" fill="#ffffff"/><rect x="594.66" y="294.11" width="8.84" height="8.09" fill="#a0a0a0"/><rect x="602.8" y="294.11" width="8.84" height="8.09" fill="#040404"/><rect x="610.94" y="294.11" width="8.84" height="8.09" fill="#a8a8a8"/><rect x="619.08" y="294.11" width="130.22" height="8.09" fill="#ffffff"/></g>
<g><rect x="497" y="428" width="25.12" height="8.77" fill="#ffffff"/><rect x="521.42" y="428" width="8.84" height="8.77" fill="#888888"/><rect x="529.55" y="428" width="8.84" height="8.77" fill="#202020"/><rect x="537.69" y="428" width="8.84" height="8.77" fill="#c8c8c8"/><rect x="545.83" y="428" width="179.75" height="8.77" fill="#ffffff"/><rect x="724.88" y="428" width="8.84" height="8.77" fill="#d0d0d0"/><rect x="733.02" y="428" width="8.84" height="8.77" fill="#e8e8e8"/><rect x="741.16" y="428" width="8.14" height="8.77" fill="#ffffff"/><rect x="497" y="436.07" width="25.12" height="8.77" fill="#ffffff"/><rect x="521.42" y="436.07" width="8.84" height="8.77" fill="#e8e8e8"/><rect x="529.55" y="436.07" width="8.84" height="8.77" fill="#404040"/><rect x="537.69" y="436.07" width="8.84" height="8.77" fill="#585858"/><rect x="545.83" y="436.07" width="8.84" height="8.77" fill="#f6f6f6"/><rect x="553.97" y="436.07" width="187.89" height="8.77" fill="#ffffff"/><rect x="741.16" y="436.07" width="8.14" height="8.77" fill="#f6f6f6"/><rect x="497" y="444.14" width="33.25" height="8.77" fill="#ffffff"/><rect x="529.55" y="444.14" width="8.84" height="8.77" fill="#a0a0a0"/><rect x="537.69" y="444.14" width="8.84" height="8.77" fill="#080808"/><rect x="545.83" y="444.14" width="8.84" height="8.77" fill="#888888"/><rect x="553.97" y="444.14" width="179.75" height="8.77" fill="#ffffff"/><rect x="733.02" y="444.14" width="8.84" height="8.77" fill="#e0e0e0"/><rect x="741.16" y="444.14" width="8.14" height="8.77" fill="#c0c0c0"/><rect x="497" y="452.21" width="33.25" height="8.77" fill="#ffffff"/><rect x="529.55" y="452.21" width="8.84" height="8.77" fill="#eeeeee"/><rect x="537.69" y="452.21" width="8.84" height="8.77" fill="#686868"/><rect x="545.83" y="452.21" width="8.84" height="8.77" fill="#303030"/><rect x="553.97" y="452.21" width="8.84" height="8.77" fill="#a8a8a8"/><rect x="562.11" y="452.21" width="163.47" height="8.77" fill="#ffffff"/><rect x="724.88" y="452.21" width="8.84" height="8.77" fill="#eeeeee"/><rect x="733.02" y="452.21" width="16.28" height="8.77" fill="#ffffff"/><rect x="497" y="460.28" width="41.39" height="8.77" fill="#ffffff"/><rect x="537.69" y="460.28" width="8.84" height="8.77" fill="#c8c8c8"/><rect x="545.83" y="460.28" width="8.84" height="8.77" fill="#404040"/><rect x="553.97" y="460.28" width="8.84" height="8.77" fill="#484848"/><rect x="562.11" y="460.28" width="8.84" height="8.77" fill="#c0c0c0"/><rect x="570.25" y="460.28" width="171.61" height="8.77" fill="#ffffff"/><rect x="741.16" y="460.28" width="8.14" height="8.77" fill="#eeeeee"/><rect x="497" y="468.35" width="49.53" height="8.77" fill="#ffffff"/><rect x="545.83" y="468.35" width="8.84" height="8.77" fill="#989898"/><rect x="553.97" y="468.35" width="8.84" height="8.77" fill="#202020"/><rect x="562.11" y="468.35" width="8.84" height="8.77" fill="#686868"/><rect x="570.25" y="468.35" width="8.84" height="8.77" fill="#dddddd"/><rect x="578.39" y="468.35" width="155.34" height="8.77" fill="#ffffff"/><rect x="733.02" y="468.35" width="8.84" height="8.77" fill="#e8e8e8"/><rect x="741.16" y="468.35" width="8.14" height="8.77" fill="#eeeeee"/><rect x="497" y="476.43" width="49.53" height="8.77" fill="#ffffff"/><rect x="545.83" y="476.43" width="8.84" height="8.77" fill="#d8d8d8"/><rect x="553.97" y="476.43" width="8.84" height="8.77" fill="#585858"/><rect x="562.11" y="476.43" width="8.84" height="8.77" fill="#282828"/><rect x="570.25" y="476.43" width="8.84" height="8.77" fill="#989898"/><rect x="578.39" y="476.43" width="8.84" height="8.77" fill="#fafafa"/><rect x="586.53" y="476.43" width="162.77" height="8.77" fill="#ffffff"/><rect x="497" y="484.5" width="49.53" height="8.77" fill="#ffffff"/><rect x="545.83" y="484.5" width="8.84" height="8.77" fill="#f6f6f6"/><rect x="553.97" y="484.5" width="8.84" height="8.77" fill="#888888"/><rect x="562.11" y="484.5" width="8.84" height="8.77" fill="#101010"/><rect x="570.25" y="484.5" width="8.84" height="8.77" fill="#686868"/><rect x="578.39" y="484.5" width="8.84" height="8.77" fill="#d0d0d0"/><rect x="586.53" y="484.5" width="155.34" height="8.77" fill="#ffffff"/><rect x="741.16" y="484.5" width="8.14" height="8.77" fill="#d0d0d0"/><rect x="497" y="492.57" width="57.67" height="8.77" fill="#ffffff"/><rect x="553.97" y="492.57" width="8.84" height="8.77" fill="#b8b8b8"/><rect x="562.11" y="492.57" width="8.84" height="8.77" fill="#484848"/><rect x="570.25" y="492.57" width="8.84" height="8.77" fill="#303030"/><rect x="578.39" y="492.57" width="8.84" height="8.77" fill="#989898"/><rect x="586.53" y="492.57" width="8.84" height="8.77" fill="#f4f4f4"/><rect x="594.66" y="492.57" width="130.92" height="8.77" fill="#ffffff"/><rect x="724.88" y="492.57" width="8.84" height="8.77" fill="#f6f6f6"/><rect x="733.02" y="492.57" width="8.84" height="8.77" fill="#e8e8e8"/><rect x="741.16" y="492.57" width="8.14" height="8.77" fill="#ffffff"/><rect x="497" y="500.64" width="57.67" height="8.77" fill="#ffffff"/><rect x="553.97" y="500.64" width="8.84" height="8.77" fill="#eeeeee"/><rect x="562.11" y="500.64" width="8.84" height="8.77" fill="#888888"/><rect x="570.25" y="500.64" width="8.84" height="8.77" fill="#181818"/><rect x="578.39" y="500.64" width="8.84" height="8.77" fill="#585858"/><rect x="586.53" y="500.64" width="8.84" height="8.77" fill="#c0c0c0"/><rect x="594.66" y="500.64" width="122.78" height="8.77" fill="#ffffff"/><rect x="716.75" y="500.64" width="8.84" height="8.77" fill="#fcfcfc"/><rect x="724.88" y="500.64" width="8.84" height="8.77" fill="#ffffff"/><rect x="733.02" y="500.64" width="8.84" height="8.77" fill="#f0f0f0"/><rect x="741.16" y="500.64" width="8.14" height="8.77" fill="#909090"/><rect x="497" y="508.71" width="65.81" height="8.77" fill="#ffffff"/><rect x="562.11" y="508.71" width="8.84" height="8.77" fill="#a8a8a8"/><rect x="570.25" y="508.71" width="8.84" height="8.77" fill="#484848"/><rect x="578.39" y="508.71" width="8.84" height="8.77" fill="#303030"/><rect x="586.53" y="508.71" width="8.84" height="8.77" fill="#909090"/><rect x="594.66" y="508.71" width="8.84" height="8.77" fill="#e8e8e8"/><rect x="602.8" y="508.71" width="122.78" height="8.77" fill="#ffffff"/><rect x="724.88" y="508.71" width="8.84" height="8.77" fill="#d0d0d0"/><rect x="733.02" y="508.71" width="8.84" height="8.77" fill="#808080"/><rect x="741.16" y="508.71" width="8.14" height="8.77" fill="#101010"/><rect x="497" y="516.78" width="65.81" height="8.77" fill="#ffffff"/><rect x="562.11" y="516.78" width="8.84" height="8.77" fill="#c0c0c0"/><rect x="570.25" y="516.78" width="8.84" height="8.77" fill="#606060"/><rect x="578.39" y="516.78" width="8.84" height="8.77" fill="#181818"/><rect x="586.53" y="516.78" width="8.84" height="8.77" fill="#808080"/><rect x="594.66" y="516.78" width="8.84" height="8.77" fill="#d0d0d0"/><rect x="602.8" y="516.78" width="114.64" height="8.77" fill="#ffffff"/><rect x="716.75" y="516.78" width="8.84" height="8.77" fill="#b8b8b8"/><rect x="724.88" y="516.78" width="8.84" height="8.77" fill="#686868"/><rect x="733.02" y="516.78" width="8.84" height="8.77" fill="#707070"/><rect x="741.16" y="516.78" width="8.14" height="8.77" fill="#ffffff"/><rect x="497" y="524.85" width="65.81" height="8.77" fill="#ffffff"/><rect x="562.11" y="524.85" width="8.84" height="8.77" fill="#d0d0d0"/><rect x="570.25" y="524.85" width="8.84" height="8.77" fill="#707070"/><rect x="578.39" y="524.85" width="8.84" height="8.77" fill="#040404"/><rect x="586.53" y="524.85" width="8.84" height="8.77" fill="#707070"/><rect x="594.66" y="524.85" width="8.84" height="8.77" fill="#c0c0c0"/><rect x="602.8" y="524.85" width="98.36" height="8.77" fill="#ffffff"/><rect x="700.47" y="524.85" width="8.84" height="8.77" fill="#e8e8e8"/><rect x="708.61" y="524.85" width="8.84" height="8.77" fill="#a0a0a0"/><rect x="716.75" y="524.85" width="8.84" height="8.77" fill="#181818"/><rect x="724.88" y="524.85" width="24.42" height="8.77" fill="#ffffff"/><rect x="497" y="532.92" width="65.81" height="8.77" fill="#ffffff"/><rect x="562.11" y="532.92" width="8.84" height="8.77" fill="#e0e0e0"/><rect x="570.25" y="532.92" width="8.84" height="8.77" fill="#808080"/><rect x="578.39" y="532.92" width="8.84" height="8.77" fill="#181818"/><rect x="586.53" y="532.92" width="8.84" height="8.77" fill="#585858"/><rect x="594.66" y="532.92" width="8.84" height="8.77" fill="#b0b0b0"/><rect x="602.8" y="532.92" width="8.84" height="8.77" fill="#fafafa"/><rect x="610.94" y="532.92" width="82.09" height="8.77" fill="#ffffff"/><rect x="692.33" y="532.92" width="8.84" height="8.77" fill="#d0d0d0"/><rect x="700.47" y="532.92" width="16.98" height="8.77" fill="#707070"/><rect x="716.75" y="532.92" width="32.55" height="8.77" fill="#ffffff"/><rect x="497" y="540.99" width="65.81" height="8.77" fill="#ffffff"/><rect x="562.11" y="540.99" width="8.84" height="8.77" fill="#f0f0f0"/><rect x="570.25" y="540.99" width="8.84" height="8.77" fill="#909090"/><rect x="578.39" y="540.99" width="8.84" height="8.77" fill="#303030"/><rect x="586.53" y="540.99" width="8.84" height="8.77" fill="#404040"/><rect x="594.66" y="540.99" width="8.84" height="8.77" fill="#989898"/><rect x="602.8" y="540.99" width="8.84" height="8.77" fill="#e8e8e8"/><rect x="610.94" y="540.99" width="73.95" height="8.77" fill="#ffffff"/><rect x="684.19" y="540.99" width="8.84" height="8.77" fill="#b8b8b8"/><rect x="692.33" y="540.99" width="8.84" height="8.77" fill="#141414"/><rect x="700.47" y="540.99" width="48.83" height="8.77" fill="#ffffff"/><rect x="497" y="549.06" width="65.81" height="8.77" fill="#ffffff"/><rect x="562.11" y="549.06" width="8.84" height="8.77" fill="#fafafa"/><rect x="570.25" y="549.06" width="8.84" height="8.77" fill="#a0a0a0"/><rect x="578.39" y="549.06" width="8.84" height="8.77" fill="#404040"/><rect x="586.53" y="549.06" width="8.84" height="8.77" fill="#303030"/><rect x="594.66" y="549.06" width="8.84" height="8.77" fill="#888888"/><rect x="602.8" y="549.06" width="8.84" height="8.77" fill="#d8d8d8"/><rect x="610.94" y="549.06" width="57.67" height="8.77" fill="#ffffff"/><rect x="667.91" y="549.06" width="8.84" height="8.77" fill="#eeeeee"/><rect x="676.05" y="549.06" width="16.98" height="8.77" fill="#787878"/><rect x="692.33" y="549.06" width="56.97" height="8.77" fill="#ffffff"/><rect x="497" y="557.14" width="73.95" height="8.77" fill="#ffffff"/><rect x="570.25" y="557.14" width="8.84" height="8.77" fill="#a8a8a8"/><rect x="578.39" y="557.14" width="8.84" height="8.77" fill="#484848"/><rect x="586.53" y="557.14" width="8.84" height="8.77" fill="#282828"/><rect x="594.66" y="557.14" width="8.84" height="8.77" fill="#808080"/><rect x="602.8" y="557.14" width="8.84" height="8.77" fill="#d8d8d8"/><rect x="610.94" y="557.14" width="49.53" height="8.77" fill="#ffffff"/><rect x="659.77" y="557.14" width="8.84" height="8.77" fill="#d0d0d0"/><rect x="667.91" y="557.14" width="8.84" height="8.77" fill="#040404"/><rect x="676.05" y="557.14" width="73.25" height="8.77" fill="#ffffff"/><rect x="497" y="565.21" width="73.95" height="8.77" fill="#ffffff"/><rect x="570.25" y="565.21" width="8.84" height="8.77" fill="#a8a8a8"/><rect x="578.39" y="565.21" width="8.84" height="8.77" fill="#484848"/><rect x="586.53" y="565.21" width="8.84" height="8.77" fill="#282828"/><rect x="594.66" y="565.21" width="8.84" height="8.77" fill="#808080"/><rect x="602.8" y="565.21" width="8.84" height="8.77" fill="#dddddd"/><rect x="610.94" y="565.21" width="41.39" height="8.77" fill="#ffffff"/><rect x="651.64" y="565.21" width="8.84" height="8.77" fill="#686868"/><rect x="659.77" y="565.21" width="8.84" height="8.77" fill="#989898"/><rect x="667.91" y="565.21" width="81.39" height="8.77" fill="#ffffff"/><rect x="497" y="573.28" width="73.95" height="8.77" fill="#ffffff"/><rect x="570.25" y="573.28" width="8.84" height="8.77" fill="#a8a8a8"/><rect x="578.39" y="573.28" width="8.84" height="8.77" fill="#404040"/><rect x="586.53" y="573.28" width="8.84" height="8.77" fill="#303030"/><rect x="594.66" y="573.28" width="8.84" height="8.77" fill="#888888"/><rect x="602.8" y="573.28" width="8.84" height="8.77" fill="#e0e0e0"/><rect x="610.94" y="573.28" width="25.12" height="8.77" fill="#ffffff"/><rect x="635.36" y="573.28" width="8.84" height="8.77" fill="#d0d0d0"/><rect x="643.5" y="573.28" width="8.84" height="8.77" fill="#202020"/><rect x="651.64" y="573.28" width="97.66" height="8.77" fill="#ffffff"/><rect x="497" y="581.35" width="65.81" height="8.77" fill="#ffffff"/><rect x="562.11" y="581.35" width="8.84" height="8.77" fill="#fafafa"/><rect x="570.25" y="581.35" width="8.84" height="8.77" fill="#a0a0a0"/><rect x="578.39" y="581.35" width="16.98" height="8.77" fill="#383838"/><rect x="594.66" y="581.35" width="8.84" height="8.77" fill="#909090"/><rect x="602.8" y="581.35" width="8.84" height="8.77" fill="#eeeeee"/><rect x="610.94" y="581.35" width="16.98" height="8.77" fill="#ffffff"/><rect x="627.22" y="581.35" width="8.84" height="8.77" fill="#484848"/><rect x="635.36" y="581.35" width="8.84" height="8.77" fill="#dddddd"/><rect x="643.5" y="581.35" width="105.8" height="8.77" fill="#ffffff"/><rect x="497" y="589.42" width="65.81" height="8.77" fill="#ffffff"/><rect x="562.11" y="589.42" width="8.84" height="8.77" fill="#f0f0f0"/><rect x="570.25" y="589.42" width="8.84" height="8.77" fill="#989898"/><rect x="578.39" y="589.42" width="8.84" height="8.77" fill="#282828"/><rect x="586.53" y="589.42" width="8.84" height="8.77" fill="#484848"/><rect x="594.66" y="589.42" width="8.84" height="8.77" fill="#a0a0a0"/><rect x="602.8" y="589.42" width="8.84" height="8.77" fill="#f4f4f4"/><rect x="610.94" y="589.42" width="8.84" height="8.77" fill="#b0b0b0"/><rect x="619.08" y="589.42" width="8.84" height="8.77" fill="#585858"/><rect x="627.22" y="589.42" width="122.08" height="8.77" fill="#ffffff"/><rect x="497" y="597.49" width="65.81" height="8.77" fill="#ffffff"/><rect x="562.11" y="597.49" width="8.84" height="8.77" fill="#eeeeee"/><rect x="570.25" y="597.49" width="8.84" height="8.77" fill="#888888"/><rect x="578.39" y="597.49" width="8.84" height="8.77" fill="#181818"/><rect x="586.53" y="597.49" width="8.84" height="8.77" fill="#585858"/><rect x="594.66" y="597.49" width="8.84" height="8.77" fill="#b0b0b0"/><rect x="602.8" y="597.49" width="8.84" height="8.77" fill="#080808"/><rect x="610.94" y="597.49" width="138.36" height="8.77" fill="#ffffff"/><rect x="497" y="605.56" width="65.81" height="8.77" fill="#ffffff"/><rect x="562.11" y="605.56" width="8.84" height="8.77" fill="#d8d8d8"/><rect x="570.25" y="605.56" width="8.84" height="8.77" fill="#686868"/><rect x="578.39" y="605.56" width="8.84" height="8.77" fill="#080808"/><rect x="586.53" y="605.56" width="8.84" height="8.77" fill="#787878"/><rect x="594.66" y="605.56" width="8.84" height="8.77" fill="#c0c0c0"/><rect x="602.8" y="605.56" width="146.5" height="8.77" fill="#ffffff"/><rect x="497" y="613.63" width="65.81" height="8.77" fill="#ffffff"/><rect x="562.11" y="613.63" width="8.84" height="8.77" fill="#a8a8a8"/><rect x="570.25" y="613.63" width="8.84" height="8.77" fill="#303030"/><rect x="578.39" y="613.63" width="8.84" height="8.77" fill="#404040"/><rect x="586.53" y="613.63" width="8.84" height="8.77" fill="#a8a8a8"/><rect x="594.66" y="613.63" width="8.84" height="8.77" fill="#fafafa"/><rect x="602.8" y="613.63" width="146.5" height="8.77" fill="#ffffff"/><rect x="497" y="621.7" width="57.67" height="8.77" fill="#ffffff"/><rect x="553.97" y="621.7" width="8.84" height="8.77" fill="#e0e0e0"/><rect x="562.11" y="621.7" width="8.84" height="8.77" fill="#303030"/><rect x="570.25" y="621.7" width="8.84" height="8.77" fill="#080808"/><rect x="578.39" y="621.7" width="8.84" height="8.77" fill="#808080"/><rect x="586.53" y="621.7" width="8.84" height="8.77" fill="#e0e0e0"/><rect x="594.66" y="621.7" width="154.64" height="8.77" fill="#ffffff"/><rect x="497" y="629.77" width="49.53" height="8.77" fill="#ffffff"/><rect x="545.83" y="629.77" width="8.84" height="8.77" fill="#b0b0b0"/><rect x="553.97" y="629.77" width="8.84" height="8.77" fill="#686868"/><rect x="562.11" y="629.77" width="8.84" height="8.77" fill="#303030"/><rect x="570.25" y="629.77" width="8.84" height="8.77" fill="#484848"/><rect x="578.39" y="629.77" width="8.84" height="8.77" fill="#b8b8b8"/><rect x="586.53" y="629.77" width="162.77" height="8.77" fill="#ffffff"/><rect x="497" y="637.85" width="41.39" height="8.77" fill="#ffffff"/><rect x="537.69" y="637.85" width="8.84" height="8.77" fill="#484848"/><rect x="545.83" y="637.85" width="8.84" height="8.77" fill="#b8b8b8"/><rect x="553.97" y="637.85" width="8.84" height="8.77" fill="#484848"/><rect x="562.11" y="637.85" width="8.84" height="8.77" fill="#303030"/><rect x="570.25" y="637.85" width="8.84" height="8.77" fill="#a0a0a0"/><rect x="578.39" y="637.85" width="8.84" height="8.77" fill="#f6f6f6"/><rect x="586.53" y="637.85" width="162.77" height="8.77" fill="#ffffff"/><rect x="497" y="645.92" width="33.25" height="8.77" fill="#ffffff"/><rect x="529.55" y="645.92" width="8.84" height="8.77" fill="#383838"/><rect x="537.69" y="645.92" width="8.84" height="8.77" fill="#b8b8b8"/><rect x="545.83" y="645.92" width="8.84" height="8.77" fill="#484848"/><rect x="553.97" y="645.92" width="8.84" height="8.77" fill="#404040"/><rect x="562.11" y="645.92" width="8.84" height="8.77" fill="#a8a8a8"/><rect x="570.25" y="645.92" width="179.05" height="8.77" fill="#ffffff"/><rect x="497" y="653.99" width="25.12" height="8.77" fill="#ffffff"/><rect x="521.42" y="653.99" width="8.84" height="8.77" fill="#989898"/><rect x="529.55" y="653.99" width="8.84" height="8.77" fill="#404040"/><rect x="537.69" y="653.99" width="16.98" height="8.77" fill="#484848"/><rect x="553.97" y="653.99" width="8.84" height="8.77" fill="#c8c8c8"/><rect x="562.11" y="653.99" width="187.19" height="8.77" fill="#ffffff"/><rect x="497" y="662.06" width="25.12" height="8.77" fill="#ffffff"/><rect x="521.42" y="662.06" width="8.84" height="8.77" fill="#888888"/><rect x="529.55" y="662.06" width="8.84" height="8.77" fill="#404040"/><rect x="537.69" y="662.06" width="8.84" height="8.77" fill="#282828"/><rect x="545.83" y="662.06" width="8.84" height="8.77" fill="#c8c8c8"/><rect x="553.97" y="662.06" width="195.33" height="8.77" fill="#ffffff"/><rect x="497" y="670.13" width="25.12" height="8.07" fill="#ffffff"/><rect x="521.42" y="670.13" width="8.84" height="8.07" fill="#c0c0c0"/><rect x="529.55" y="670.13" width="8.84" height="8.07" fill="#080808"/><rect x="537.69" y="670.13" width="8.84" height="8.07" fill="#a0a0a0"/><rect x="545.83" y="670.13" width="203.47" height="8.07" fill="#ffffff"/></g>
<g><rect x="1022.9" y="51.5" width="17.5" height="8.79" fill="#ffffff"/><rect x="1039.7" y="51.5" width="9.1" height="8.79" fill="#686868"/><rect x="1048.1" y="51.5" width="9.1" height="8.79" fill="#888888"/><rect x="1056.5" y="51.5" width="219.1" height="8.79" fill="#ffffff"/><rect x="1274.9" y="51.5" width="8.4" height="8.79" fill="#f8f8f8"/><rect x="1022.9" y="59.59" width="17.5" height="8.79" fill="#ffffff"/><rect x="1039.7" y="59.59" width="9.1" height="8.79" fill="#686868"/><rect x="1048.1" y="59.59" width="9.1" height="8.79" fill="#888888"/><rect x="1056.5" y="59.59" width="210.7" height="8.79" fill="#ffffff"/><rect x="1266.5" y="59.59" width="9.1" height="8.79" fill="#e0e0e0"/><rect x="1274.9" y="59.59" width="8.4" height="8.79" fill="#484848"/><rect x="1022.9" y="67.67" width="17.5" height="8.79" fill="#ffffff"/><rect x="1039.7" y="67.67" width="9.1" height="8.79" fill="#888888"/><rect x="1048.1" y="67.67" width="9.1" height="8.79" fill="#686868"/><rect x="1056.5" y="67.67" width="202.3" height="8.79" fill="#ffffff"/><rect x="1258.1" y="67.67" width="9.1" height="8.79" fill="#c8c8c8"/><rect x="1266.5" y="67.67" width="9.1" height="8.79" fill="#181818"/><rect x="1274.9" y="67.67" width="8.4" height="8.79" fill="#888888"/><rect x="1022.9" y="75.76" width="17.5" height="8.79" fill="#ffffff"/><rect x="1039.7" y="75.76" width="9.1" height="8.79" fill="#c4c4c4"/><rect x="1048.1" y="75.76" width="9.1" height="8.79" fill="#303030"/><rect x="1056.5" y="75.76" width="9.1" height="8.79" fill="#fafafa"/><rect x="1064.9" y="75.76" width="185.5" height="8.79" fill="#ffffff"/><rect x="1249.7" y="75.76" width="9.1" height="8.79" fill="#a0a0a0"/><rect x="1258.1" y="75.76" width="9.1" height="8.79" fill="#101010"/><rect x="1266.5" y="75.76" width="9.1" height="8.79" fill="#b0b0b0"/><rect x="1274.9" y="75.76" width="8.4" height="8.79" fill="#ffffff"/><rect x="1022.9" y="83.85" width="25.9" height="8.79" fill="#ffffff"/><rect x="1048.1" y="83.85" width="9.1" height="8.79" fill="#303030"/><rect x="1056.5" y="83.85" width="9.1" height="8.79" fill="#b8b8b8"/><rect x="1064.9" y="83.85" width="177.1" height="8.79" fill="#ffffff"/><rect x="1241.3" y="83.85" width="9.1" height="8.79" fill="#787878"/><rect x="1249.7" y="83.85" width="9.1" height="8.79" fill="#484848"/><rect x="1258.1" y="83.85" width="9.1" height="8.79" fill="#e0e0e0"/><rect x="1266.5" y="83.85" width="16.8" height="8.79" fill="#ffffff"/><rect x="1022.9" y="91.94" width="25.9" height="8.79" fill="#ffffff"/><rect x="1048.1" y="91.94" width="9.1" height="8.79" fill="#989898"/><rect x="1056.5" y="91.94" width="9.1" height="8.79" fill="#505050"/><rect x="1064.9" y="91.94" width="160.3" height="8.79" fill="#ffffff"/><rect x="1224.5" y="91.94" width="9.1" height="8.79" fill="#f4f4f4"/><rect x="1232.9" y="91.94" width="9.1" height="8.79" fill="#484848"/><rect x="1241.3" y="91.94" width="9.1" height="8.79" fill="#787878"/><rect x="1249.7" y="91.94" width="9.1" height="8.79" fill="#fafafa"/><rect x="1258.1" y="91.94" width="25.2" height="8.79" fill="#ffffff"/><rect x="1022.9" y="100.02" width="34.3" height="8.79" fill="#ffffff"/><rect x="1056.5" y="100.02" width="9.1" height="8.79" fill="#383838"/><rect x="1064.9" y="100.02" width="9.1" height="8.79" fill="#a8a8a8"/><rect x="1073.3" y="100.02" width="143.5" height="8.79" fill="#ffffff"/><rect x="1216.1" y="100.02" width="9.1" height="8.79" fill="#d0d0d0"/><rect x="1224.5" y="100.02" width="9.1" height="8.79" fill="#101010"/><rect x="1232.9" y="100.02" width="9.1" height="8.79" fill="#a0a0a0"/><rect x="1241.3" y="100.02" width="42" height="8.79" fill="#ffffff"/><rect x="1022.9" y="108.11" width="34.3" height="8.79" fill="#ffffff"/><rect x="1056.5" y="108.11" width="9.1" height="8.79" fill="#d0d0d0"/><rect x="1064.9" y="108.11" width="9.1" height="8.79" fill="#141414"/><rect x="1073.3" y="108.11" width="9.1" height="8.79" fill="#eeeeee"/><rect x="1081.7" y="108.11" width="126.7" height="8.79" fill="#ffffff"/><rect x="1207.7" y="108.11" width="9.1" height="8.79" fill="#a8a8a8"/><rect x="1216.1" y="108.11" width="9.1" height="8.79" fill="#202020"/><rect x="1224.5" y="108.11" width="9.1" height="8.79" fill="#d8d8d8"/><rect x="1232.9" y="108.11" width="50.4" height="8.79" fill="#ffffff"/><rect x="1022.9" y="116.2" width="42.7" height="8.79" fill="#ffffff"/><rect x="1064.9" y="116.2" width="9.1" height="8.79" fill="#989898"/><rect x="1073.3" y="116.2" width="9.1" height="8.79" fill="#505050"/><rect x="1081.7" y="116.2" width="118.3" height="8.79" fill="#ffffff"/><rect x="1199.3" y="116.2" width="9.1" height="8.79" fill="#808080"/><rect x="1207.7" y="116.2" width="9.1" height="8.79" fill="#484848"/><rect x="1216.1" y="116.2" width="9.1" height="8.79" fill="#f8f8f8"/><rect x="1224.5" y="116.2" width="58.8" height="8.79" fill="#ffffff"/><rect x="1022.9" y="124.28" width="51.1" height="8.79" fill="#ffffff"/><rect x="1073.3" y="124.28" width="9.1" height="8.79" fill="#686868"/><rect x="1081.7" y="124.28" width="9.1" height="8.79" fill="#808080"/><rect x="1090.1" y="124.28" width="101.5" height="8.79" fill="#ffffff"/><rect x="1190.9" y="124.28" width="9.1" height="8.79" fill="#505050"/><rect x="1199.3" y="124.28" width="9.1" height="8.79" fill="#808080"/><rect x="1207.7" y="124.28" width="75.6" height="8.79" fill="#ffffff"/><rect x="1022.9" y="132.37" width="59.5" height="8.79" fill="#ffffff"/><rect x="1081.7" y="132.37" width="9.1" height="8.79" fill="#505050"/><rect x="1090.1" y="132.37" width="9.1" height="8.79" fill="#989898"/><rect x="1098.5" y="132.37" width="76.3" height="8.79" fill="#ffffff"/><rect x="1174.1" y="132.37" width="9.1" height="8.79" fill="#f0f0f0"/><rect x="1182.5" y="132.37" width="9.1" height="8.79" fill="#202020"/><rect x="1190.9" y="132.37" width="9.1" height="8.79" fill="#a8a8a8"/><rect x="1199.3" y="132.37" width="84" height="8.79" fill="#ffffff"/><rect x="1022.9" y="140.46" width="67.9" height="8.79" fill="#ffffff"/><rect x="1090.1" y="140.46" width="9.1" height="8.79" fill="#404040"/><rect x="1098.5" y="140.46" width="9.1" height="8.79" fill="#a8a8a8"/><rect x="1106.9" y="140.46" width="59.5" height="8.79" fill="#ffffff"/><rect x="1165.7" y="140.46" width="9.1" height="8.79" fill="#d0d0d0"/><rect x="1174.1" y="140.46" width="9.1" height="8.79" fill="#0c0c0c"/><rect x="1182.5" y="140.46" width="9.1" height="8.79" fill="#e0e0e0"/><rect x="1190.9" y="140.46" width="92.4" height="8.79" fill="#ffffff"/><rect x="1022.9" y="148.55" width="76.3" height="8.79" fill="#ffffff"/><rect x="1098.5" y="148.55" width="9.1" height="8.79" fill="#383838"/><rect x="1106.9" y="148.55" width="9.1" height="8.79" fill="#b0b0b0"/><rect x="1115.3" y="148.55" width="42.7" height="8.79" fill="#ffffff"/><rect x="1157.3" y="148.55" width="9.1" height="8.79" fill="#a0a0a0"/><rect x="1165.7" y="148.55" width="9.1" height="8.79" fill="#383838"/><rect x="1174.1" y="148.55" width="109.2" height="8.79" fill="#ffffff"/><rect x="1022.9" y="156.63" width="84.7" height="8.79" fill="#ffffff"/><rect x="1106.9" y="156.63" width="9.1" height="8.79" fill="#383838"/><rect x="1115.3" y="156.63" width="9.1" height="8.79" fill="#b0b0b0"/><rect x="1123.7" y="156.63" width="25.9" height="8.79" fill="#ffffff"/><rect x="1148.9" y="156.63" width="9.1" height="8.79" fill="#808080"/><rect x="1157.3" y="156.63" width="9.1" height="8.79" fill="#606060"/><rect x="1165.7" y="156.63" width="117.6" height="8.79" fill="#ffffff"/><rect x="1022.9" y="164.72" width="93.1" height="8.79" fill="#ffffff"/><rect x="1115.3" y="164.72" width="9.1" height="8.79" fill="#404040"/><rect x="1123.7" y="164.72" width="9.1" height="8.79" fill="#a8a8a8"/><rect x="1132.1" y="164.72" width="9.1" height="8.79" fill="#ffffff"/><rect x="1140.5" y="164.72" width="9.1" height="8.79" fill="#505050"/><rect x="1148.9" y="164.72" width="9.1" height="8.79" fill="#909090"/><rect x="1157.3" y="164.72" width="126" height="8.79" fill="#ffffff"/><rect x="1022.9" y="172.81" width="101.5" height="8.79" fill="#ffffff"/><rect x="1123.7" y="172.81" width="9.1" height="8.79" fill="#505050"/><rect x="1132.1" y="172.81" width="9.1" height="8.79" fill="#383838"/><rect x="1140.5" y="172.81" width="9.1" height="8.79" fill="#b0b0b0"/><rect x="1148.9" y="172.81" width="134.4" height="8.79" fill="#ffffff"/><rect x="1022.9" y="180.89" width="101.5" height="8.79" fill="#ffffff"/><rect x="1123.7" y="180.89" width="9.1" height="8.79" fill="#181818"/><rect x="1132.1" y="180.89" width="9.1" height="8.79" fill="#707070"/><rect x="1140.5" y="180.89" width="9.1" height="8.79" fill="#909090"/><rect x="1148.9" y="180.89" width="134.4" height="8.79" fill="#ffffff"/><rect x="1022.9" y="188.98" width="84.7" height="8.79" fill="#ffffff"/><rect x="1106.9" y="188.98" width="9.1" height="8.79" fill="#eeeeee"/><rect x="1115.3" y="188.98" width="9.1" height="8.79" fill="#080808"/><rect x="1123.7" y="188.98" width="9.1" height="8.79" fill="#e0e0e0"/><rect x="1132.1" y="188.98" width="9.1" height="8.79" fill="#ffffff"/><rect x="1140.5" y="188.98" width="9.1" height="8.79" fill="#909090"/><rect x="1148.9" y="188.98" width="9.1" height="8.79" fill="#707070"/><rect x="1157.3" y="188.98" width="126" height="8.79" fill="#ffffff"/><rect x="1022.9" y="197.07" width="76.3" height="8.79" fill="#ffffff"/><rect x="1098.5" y="197.07" width="9.1" height="8.79" fill="#e0e0e0"/><rect x="1106.9" y="197.07" width="9.1" height="8.79" fill="#0c0c0c"/><rect x="1115.3" y="197.07" width="9.1" height="8.79" fill="#f0f0f0"/><rect x="1123.7" y="197.07" width="25.9" height="8.79" fill="#ffffff"/><rect x="1148.9" y="197.07" width="9.1" height="8.79" fill="#a0a0a0"/><rect x="1157.3" y="197.07" width="9.1" height="8.79" fill="#484848"/><rect x="1165.7" y="197.07" width="117.6" height="8.79" fill="#ffffff"/><rect x="1022.9" y="205.15" width="67.9" height="8.79" fill="#ffffff"/><rect x="1090.1" y="205.15" width="9.1" height="8.79" fill="#d8d8d8"/><rect x="1098.5" y="205.15" width="9.1" height="8.79" fill="#101010"/><rect x="1106.9" y="205.15" width="9.1" height="8.79" fill="#fafafa"/><rect x="1115.3" y="205.15" width="42.7" height="8.79" fill="#ffffff"/><rect x="1157.3" y="205.15" width="9.1" height="8.79" fill="#c0c0c0"/><rect x="1165.7" y="205.15" width="9.1" height="8.79" fill="#202020"/><rect x="1174.1" y="205.15" width="109.2" height="8.79" fill="#ffffff"/><rect x="1022.9" y="213.24" width="59.5" height="8.79" fill="#ffffff"/><rect x="1081.7" y="213.24" width="9.1" height="8.79" fill="#e0e0e0"/><rect x="1090.1" y="213.24" width="9.1" height="8.79" fill="#101010"/><rect x="1098.5" y="213.24" width="9.1" height="8.79" fill="#fafafa"/><rect x="1106.9" y="213.24" width="59.5" height="8.79" fill="#ffffff"/><rect x="1165.7" y="213.24" width="9.1" height="8.79" fill="#e0e0e0"/><rect x="1174.1" y="213.24" width="9.1" height="8.79" fill="#080808"/><rect x="1182.5" y="213.24" width="9.1" height="8.79" fill="#e0e0e0"/><rect x="1190.9" y="213.24" width="92.4" height="8.79" fill="#ffffff"/><rect x="1022.9" y="221.33" width="51.1" height="8.79" fill="#ffffff"/><rect x="1073.3" y="221.33" width="9.1" height="8.79" fill="#eeeeee"/><rect x="1081.7" y="221.33" width="9.1" height="8.79" fill="#080808"/><rect x="1090.1" y="221.33" width="9.1" height="8.79" fill="#eeeeee"/><rect x="1098.5" y="221.33" width="76.3" height="8.79" fill="#ffffff"/><rect x="1174.1" y="221.33" width="9.1" height="8.79" fill="#f6f6f6"/><rect x="1182.5" y="221.33" width="9.1" height="8.79" fill="#282828"/><rect x="1190.9" y="221.33" width="9.1" height="8.79" fill="#b8b8b8"/><rect x="1199.3" y="221.33" width="84" height="8.79" fill="#ffffff"/><rect x="1022.9" y="229.42" width="51.1" height="8.79" fill="#ffffff"/><rect x="1073.3" y="229.42" width="9.1" height="8.79" fill="#181818"/><rect x="1081.7" y="229.42" width="9.1" height="8.79" fill="#d8d8d8"/><rect x="1090.1" y="229.42" width="101.5" height="8.79" fill="#ffffff"/><rect x="1190.9" y="229.42" width="9.1" height="8.79" fill="#585858"/><rect x="1199.3" y="229.42" width="9.1" height="8.79" fill="#888888"/><rect x="1207.7" y="229.42" width="75.6" height="8.79" fill="#ffffff"/><rect x="1022.9" y="237.5" width="42.7" height="8.79" fill="#ffffff"/><rect x="1064.9" y="237.5" width="9.1" height="8.79" fill="#484848"/><rect x="1073.3" y="237.5" width="9.1" height="8.79" fill="#a0a0a0"/><rect x="1081.7" y="237.5" width="118.3" height="8.79" fill="#ffffff"/><rect x="1199.3" y="237.5" width="9.1" height="8.79" fill="#787878"/><rect x="1207.7" y="237.5" width="9.1" height="8.79" fill="#585858"/><rect x="1216.1" y="237.5" width="67.2" height="8.79" fill="#ffffff"/><rect x="1022.9" y="245.59" width="34.3" height="8.79" fill="#ffffff"/><rect x="1056.5" y="245.59" width="9.1" height="8.79" fill="#808080"/><rect x="1064.9" y="245.59" width="9.1" height="8.79" fill="#707070"/><rect x="1073.3" y="245.59" width="135.1" height="8.79" fill="#ffffff"/><rect x="1207.7" y="245.59" width="9.1" height="8.79" fill="#a0a0a0"/><rect x="1216.1" y="245.59" width="9.1" height="8.79" fill="#303030"/><rect x="1224.5" y="245.59" width="58.8" height="8.79" fill="#ffffff"/><rect x="1022.9" y="253.68" width="25.9" height="8.79" fill="#ffffff"/><rect x="1048.1" y="253.68" width="9.1" height="8.79" fill="#e0e0e0"/><rect x="1056.5" y="253.68" width="9.1" height="8.79" fill="#181818"/><rect x="1064.9" y="253.68" width="151.9" height="8.79" fill="#ffffff"/><rect x="1216.1" y="253.68" width="9.1" height="8.79" fill="#c8c8c8"/><rect x="1224.5" y="253.68" width="9.1" height="8.79" fill="#0c0c0c"/><rect x="1232.9" y="253.68" width="9.1" height="8.79" fill="#d0d0d0"/><rect x="1241.3" y="253.68" width="42" height="8.79" fill="#ffffff"/><rect x="1022.9" y="261.76" width="25.9" height="8.79" fill="#ffffff"/><rect x="1048.1" y="261.76" width="9.1" height="8.79" fill="#505050"/><rect x="1056.5" y="261.76" width="9.1" height="8.79" fill="#a0a0a0"/><rect x="1064.9" y="261.76" width="160.3" height="8.79" fill="#ffffff"/><rect x="1224.5" y="261.76" width="9.1" height="8.79" fill="#e0e0e0"/><rect x="1232.9" y="261.76" width="9.1" height="8.79" fill="#303030"/><rect x="1241.3" y="261.76" width="9.1" height="8.79" fill="#a0a0a0"/><rect x="1249.7" y="261.76" width="33.6" height="8.79" fill="#ffffff"/><rect x="1022.9" y="269.85" width="17.5" height="8.79" fill="#ffffff"/><rect x="1039.7" y="269.85" width="9.1" height="8.79" fill="#e0e0e0"/><rect x="1048.1" y="269.85" width="9.1" height="8.79" fill="#0c0c0c"/><rect x="1056.5" y="269.85" width="9.1" height="8.79" fill="#fafafa"/><rect x="1064.9" y="269.85" width="168.7" height="8.79" fill="#ffffff"/><rect x="1232.9" y="269.85" width="9.1" height="8.79" fill="#eeeeee"/><rect x="1241.3" y="269.85" width="9.1" height="8.79" fill="#585858"/><rect x="1249.7" y="269.85" width="9.1" height="8.79" fill="#707070"/><rect x="1258.1" y="269.85" width="25.2" height="8.79" fill="#ffffff"/><rect x="1022.9" y="277.94" width="17.5" height="8.79" fill="#ffffff"/><rect x="1039.7" y="277.94" width="9.1" height="8.79" fill="#909090"/><rect x="1048.1" y="277.94" width="9.1" height="8.79" fill="#585858"/><rect x="1056.5" y="277.94" width="185.5" height="8.79" fill="#ffffff"/><rect x="1241.3" y="277.94" width="9.1" height="8.79" fill="#f6f6f6"/><rect x="1249.7" y="277.94" width="9.1" height="8.79" fill="#808080"/><rect x="1258.1" y="277.94" width="9.1" height="8.79" fill="#383838"/><rect x="1266.5" y="277.94" width="9.1" height="8.79" fill="#ffffff"/><rect x="1274.9" y="277.94" width="8.4" height="8.79" fill="#e0e0e0"/><rect x="1022.9" y="286.03" width="17.5" height="8.79" fill="#ffffff"/><rect x="1039.7" y="286.03" width="9.1" height="8.79" fill="#606060"/><rect x="1048.1" y="286.03" width="9.1" height="8.79" fill="#a0a0a0"/><rect x="1056.5" y="286.03" width="193.9" height="8.79" fill="#ffffff"/><rect x="1249.7" y="286.03" width="9.1" height="8.79" fill="#fafafa"/><rect x="1258.1" y="286.03" width="9.1" height="8.79" fill="#a0a0a0"/><rect x="1266.5" y="286.03" width="9.1" height="8.79" fill="#0c0c0c"/><rect x="1274.9" y="286.03" width="8.4" height="8.79" fill="#c8c8c8"/><rect x="1022.9" y="294.11" width="17.5" height="8.09" fill="#ffffff"/><rect x="1039.7" y="294.11" width="9.1" height="8.09" fill="#484848"/><rect x="1048.1" y="294.11" width="9.1" height="8.09" fill="#b0b0b0"/><rect x="1056.5" y="294.11" width="202.3" height="8.09" fill="#ffffff"/><rect x="1258.1" y="294.11" width="9.1" height="8.09" fill="#f0f0f0"/><rect x="1266.5" y="294.11" width="9.1" height="8.09" fill="#c0c0c0"/><rect x="1274.9" y="294.11" width="8.4" height="8.09" fill="#282828"/></g>
<g><rect x="1022.9" y="428" width="135.1" height="8.77" fill="#ffffff"/><rect x="1157.3" y="428" width="9.1" height="8.77" fill="#f4f4f4"/><rect x="1165.7" y="428" width="9.1" height="8.77" fill="#dddddd"/><rect x="1174.1" y="428" width="34.3" height="8.77" fill="#ffffff"/><rect x="1207.7" y="428" width="9.1" height="8.77" fill="#888888"/><rect x="1216.1" y="428" width="9.1" height="8.77" fill="#585858"/><rect x="1224.5" y="428" width="9.1" height="8.77" fill="#686868"/><rect x="1232.9" y="428" width="9.1" height="8.77" fill="#b8b8b8"/><rect x="1241.3" y="428" width="9.1" height="8.77" fill="#f4f4f4"/><rect x="1249.7" y="428" width="9.1" height="8.77" fill="#c0c0c0"/><rect x="1258.1" y="428" width="9.1" height="8.77" fill="#585858"/><rect x="1266.5" y="428" width="9.1" height="8.77" fill="#181818"/><rect x="1274.9" y="428" width="8.4" height="8.77" fill="#383838"/><rect x="1022.9" y="436.07" width="177.1" height="8.77" fill="#ffffff"/><rect x="1199.3" y="436.07" width="9.1" height="8.77" fill="#909090"/><rect x="1207.7" y="436.07" width="9.1" height="8.77" fill="#808080"/><rect x="1216.1" y="436.07" width="9.1" height="8.77" fill="#a0a0a0"/><rect x="1224.5" y="436.07" width="9.1" height="8.77" fill="#ffffff"/><rect x="1232.9" y="436.07" width="9.1" height="8.77" fill="#f8f8f8"/><rect x="1241.3" y="436.07" width="9.1" height="8.77" fill="#c0c0c0"/><rect x="1249.7" y="436.07" width="9.1" height="8.77" fill="#383838"/><rect x="1258.1" y="436.07" width="9.1" height="8.77" fill="#202020"/><rect x="1266.5" y="436.07" width="9.1" height="8.77" fill="#0c0c0c"/><rect x="1274.9" y="436.07" width="8.4" height="8.77" fill="#484848"/><rect x="1022.9" y="444.14" width="168.7" height="8.77" fill="#ffffff"/><rect x="1190.9" y="444.14" width="17.5" height="8.77" fill="#a8a8a8"/><rect x="1207.7" y="444.14" width="9.1" height="8.77" fill="#f6f6f6"/><rect x="1216.1" y="444.14" width="9.1" height="8.77" fill="#ffffff"/><rect x="1224.5" y="444.14" width="9.1" height="8.77" fill="#f6f6f6"/><rect x="1232.9" y="444.14" width="9.1" height="8.77" fill="#a8a8a8"/><rect x="1241.3" y="444.14" width="9.1" height="8.77" fill="#282828"/><rect x="1249.7" y="444.14" width="17.5" height="8.77" fill="#080808"/><rect x="1266.5" y="444.14" width="9.1" height="8.77" fill="#989898"/><rect x="1274.9" y="444.14" width="8.4" height="8.77" fill="#909090"/><rect x="1022.9" y="452.21" width="160.3" height="8.77" fill="#ffffff"/><rect x="1182.5" y="452.21" width="9.1" height="8.77" fill="#e0e0e0"/><rect x="1190.9" y="452.21" width="9.1" height="8.77" fill="#f6f6f6"/><rect x="1199.3" y="452.21" width="25.9" height="8.77" fill="#ffffff"/><rect x="1224.5" y="452.21" width="9.1" height="8.77" fill="#909090"/><rect x="1232.9" y="452.21" width="9.1" height="8.77" fill="#303030"/><rect x="1241.3" y="452.21" width="9.1" height="8.77" fill="#282828"/><rect x="1249.7" y="452.21" width="9.1" height="8.77" fill="#404040"/><rect x="1258.1" y="452.21" width="9.1" height="8.77" fill="#c0c0c0"/><rect x="1266.5" y="452.21" width="9.1" height="8.77" fill="#606060"/><rect x="1274.9" y="452.21" width="8.4" height="8.77" fill="#303030"/><rect x="1022.9" y="460.28" width="185.5" height="8.77" fill="#ffffff"/><rect x="1207.7" y="460.28" width="9.1" height="8.77" fill="#fafafa"/><rect x="1216.1" y="460.28" width="9.1" height="8.77" fill="#888888"/><rect x="1224.5" y="460.28" width="9.1" height="8.77" fill="#484848"/><rect x="1232.9" y="460.28" width="9.1" height="8.77" fill="#202020"/><rect x="1241.3" y="460.28" width="9.1" height="8.77" fill="#808080"/><rect x="1249.7" y="460.28" width="9.1" height="8.77" fill="#c0c0c0"/><rect x="1258.1" y="460.28" width="9.1" height="8.77" fill="#303030"/><rect x="1266.5" y="460.28" width="9.1" height="8.77" fill="#1c1c1c"/><rect x="1274.9" y="460.28" width="8.4" height="8.77" fill="#101010"/><rect x="1022.9" y="468.35" width="185.5" height="8.77" fill="#ffffff"/><rect x="1207.7" y="468.35" width="9.1" height="8.77" fill="#909090"/><rect x="1216.1" y="468.35" width="9.1" height="8.77" fill="#808080"/><rect x="1224.5" y="468.35" width="9.1" height="8.77" fill="#282828"/><rect x="1232.9" y="468.35" width="9.1" height="8.77" fill="#b0b0b0"/><rect x="1241.3" y="468.35" width="9.1" height="8.77" fill="#a0a0a0"/><rect x="1249.7" y="468.35" width="9.1" height="8.77" fill="#202020"/><rect x="1258.1" y="468.35" width="9.1" height="8.77" fill="#040404"/><rect x="1266.5" y="468.35" width="9.1" height="8.77" fill="#686868"/><rect x="1274.9" y="468.35" width="8.4" height="8.77" fill="#a0a0a0"/><rect x="1022.9" y="476.43" width="177.1" height="8.77" fill="#ffffff"/><rect x="1199.3" y="476.43" width="9.1" height="8.77" fill="#b0b0b0"/><rect x="1207.7" y="476.43" width="9.1" height="8.77" fill="#484848"/><rect x="1216.1" y="476.43" width="9.1" height="8.77" fill="#686868"/><rect x="1224.5" y="476.43" width="9.1" height="8.77" fill="#d8d8d8"/><rect x="1232.9" y="476.43" width="9.1" height="8.77" fill="#787878"/><rect x="1241.3" y="476.43" width="9.1" height="8.77" fill="#303030"/><rect x="1249.7" y="476.43" width="9.1" height="8.77" fill="#484848"/><rect x="1258.1" y="476.43" width="9.1" height="8.77" fill="#a8a8a8"/><rect x="1266.5" y="476.43" width="9.1" height="8.77" fill="#909090"/><rect x="1274.9" y="476.43" width="8.4" height="8.77" fill="#c0c0c0"/><rect x="1022.9" y="484.5" width="168.7" height="8.77" fill="#ffffff"/><rect x="1190.9" y="484.5" width="9.1" height="8.77" fill="#b0b0b0"/><rect x="1199.3" y="484.5" width="9.1" height="8.77" fill="#000000"/><rect x="1207.7" y="484.5" width="9.1" height="8.77" fill="#a0a0a0"/><rect x="1216.1" y="484.5" width="9.1" height="8.77" fill="#d8d8d8"/><rect x="1224.5" y="484.5" width="9.1" height="8.77" fill="#707070"/><rect x="1232.9" y="484.5" width="9.1" height="8.77" fill="#505050"/><rect x="1241.3" y="484.5" width="9.1" height="8.77" fill="#909090"/><rect x="1249.7" y="484.5" width="9.1" height="8.77" fill="#b8b8b8"/><rect x="1258.1" y="484.5" width="9.1" height="8.77" fill="#a0a0a0"/><rect x="1266.5" y="484.5" width="9.1" height="8.77" fill="#d0d0d0"/><rect x="1274.9" y="484.5" width="8.4" height="8.77" fill="#888888"/><rect x="1022.9" y="492.57" width="9.1" height="8.77" fill="#383838"/><rect x="1031.3" y="492.57" width="151.9" height="8.77" fill="#ffffff"/><rect x="1182.5" y="492.57" width="9.1" height="8.77" fill="#787878"/><rect x="1190.9" y="492.57" width="9.1" height="8.77" fill="#484848"/><rect x="1199.3" y="492.57" width="9.1" height="8.77" fill="#c8c8c8"/><rect x="1207.7" y="492.57" width="9.1" height="8.77" fill="#c0c0c0"/><rect x="1216.1" y="492.57" width="17.5" height="8.77" fill="#787878"/><rect x="1232.9" y="492.57" width="9.1" height="8.77" fill="#c8c8c8"/><rect x="1241.3" y="492.57" width="9.1" height="8.77" fill="#a8a8a8"/><rect x="1249.7" y="492.57" width="17.5" height="8.77" fill="#b0b0b0"/><rect x="1266.5" y="492.57" width="9.1" height="8.77" fill="#888888"/><rect x="1274.9" y="492.57" width="8.4" height="8.77" fill="#404040"/><rect x="1022.9" y="500.64" width="9.1" height="8.77" fill="#ffffff"/><rect x="1031.3" y="500.64" width="9.1" height="8.77" fill="#202020"/><rect x="1039.7" y="500.64" width="126.7" height="8.77" fill="#ffffff"/><rect x="1165.7" y="500.64" width="9.1" height="8.77" fill="#e8e8e8"/><rect x="1174.1" y="500.64" width="9.1" height="8.77" fill="#404040"/><rect x="1182.5" y="500.64" width="9.1" height="8.77" fill="#787878"/><rect x="1190.9" y="500.64" width="9.1" height="8.77" fill="#eeeeee"/><rect x="1199.3" y="500.64" width="9.1" height="8.77" fill="#a8a8a8"/><rect x="1207.7" y="500.64" width="9.1" height="8.77" fill="#909090"/><rect x="1216.1" y="500.64" width="9.1" height="8.77" fill="#b0b0b0"/><rect x="1224.5" y="500.64" width="9.1" height="8.77" fill="#e0e0e0"/><rect x="1232.9" y="500.64" width="9.1" height="8.77" fill="#a8a8a8"/><rect x="1241.3" y="500.64" width="9.1" height="8.77" fill="#e0e0e0"/><rect x="1249.7" y="500.64" width="9.1" height="8.77" fill="#989898"/><rect x="1258.1" y="500.64" width="9.1" height="8.77" fill="#909090"/><rect x="1266.5" y="500.64" width="9.1" height="8.77" fill="#484848"/><rect x="1274.9" y="500.64" width="8.4" height="8.77" fill="#a8a8a8"/><rect x="1022.9" y="508.71" width="17.5" height="8.77" fill="#ffffff"/><rect x="1039.7" y="508.71" width="9.1" height="8.77" fill="#606060"/><rect x="1048.1" y="508.71" width="109.9" height="8.77" fill="#ffffff"/><rect x="1157.3" y="508.71" width="9.1" height="8.77" fill="#c0c0c0"/><rect x="1165.7" y="508.71" width="9.1" height="8.77" fill="#0c0c0c"/><rect x="1174.1" y="508.71" width="9.1" height="8.77" fill="#b0b0b0"/><rect x="1182.5" y="508.71" width="9.1" height="8.77" fill="#f4f4f4"/><rect x="1190.9" y="508.71" width="17.5" height="8.77" fill="#a8a8a8"/><rect x="1207.7" y="508.71" width="9.1" height="8.77" fill="#f8f8f8"/><rect x="1216.1" y="508.71" width="9.1" height="8.77" fill="#d8d8d8"/><rect x="1224.5" y="508.71" width="9.1" height="8.77" fill="#c0c0c0"/><rect x="1232.9" y="508.71" width="9.1" height="8.77" fill="#e8e8e8"/><rect x="1241.3" y="508.71" width="9.1" height="8.77" fill="#909090"/><rect x="1249.7" y="508.71" width="17.5" height="8.77" fill="#707070"/><rect x="1266.5" y="508.71" width="9.1" height="8.77" fill="#c0c0c0"/><rect x="1274.9" y="508.71" width="8.4" height="8.77" fill="#909090"/><rect x="1022.9" y="516.78" width="25.9" height="8.77" fill="#ffffff"/><rect x="1048.1" y="516.78" width="9.1" height="8.77" fill="#a8a8a8"/><rect x="1056.5" y="516.78" width="9.1" height="8.77" fill="#d8d8d8"/><rect x="1064.9" y="516.78" width="84.7" height="8.77" fill="#ffffff"/><rect x="1148.9" y="516.78" width="9.1" height="8.77" fill="#888888"/><rect x="1157.3" y="516.78" width="9.1" height="8.77" fill="#585858"/><rect x="1165.7" y="516.78" width="17.5" height="8.77" fill="#eeeeee"/><rect x="1182.5" y="516.78" width="9.1" height="8.77" fill="#c0c0c0"/><rect x="1190.9" y="516.78" width="9.1" height="8.77" fill="#eeeeee"/><rect x="1199.3" y="516.78" width="9.1" height="8.77" fill="#ffffff"/><rect x="1207.7" y="516.78" width="9.1" height="8.77" fill="#d8d8d8"/><rect x="1216.1" y="516.78" width="9.1" height="8.77" fill="#e8e8e8"/><rect x="1224.5" y="516.78" width="9.1" height="8.77" fill="#d8d8d8"/><rect x="1232.9" y="516.78" width="9.1" height="8.77" fill="#989898"/><rect x="1241.3" y="516.78" width="9.1" height="8.77" fill="#686868"/><rect x="1249.7" y="516.78" width="9.1" height="8.77" fill="#a8a8a8"/><rect x="1258.1" y="516.78" width="9.1" height="8.77" fill="#d0d0d0"/><rect x="1266.5" y="516.78" width="9.1" height="8.77" fill="#707070"/><rect x="1274.9" y="516.78" width="8.4" height="8.77" fill="#404040"/><rect x="1022.9" y="524.85" width="34.3" height="8.77" fill="#ffffff"/><rect x="1056.5" y="524.85" width="9.1" height="8.77" fill="#e0e0e0"/><rect x="1064.9" y="524.85" width="9.1" height="8.77" fill="#787878"/><rect x="1073.3" y="524.85" width="67.9" height="8.77" fill="#ffffff"/><rect x="1140.5" y="524.85" width="9.1" height="8.77" fill="#404040"/><rect x="1148.9" y="524.85" width="9.1" height="8.77" fill="#a0a0a0"/><rect x="1157.3" y="524.85" width="9.1" height="8.77" fill="#ffffff"/><rect x="1165.7" y="524.85" width="17.5" height="8.77" fill="#eeeeee"/><rect x="1182.5" y="524.85" width="17.5" height="8.77" fill="#ffffff"/><rect x="1199.3" y="524.85" width="9.1" height="8.77" fill="#dddddd"/><rect x="1207.7" y="524.85" width="9.1" height="8.77" fill="#ffffff"/><rect x="1216.1" y="524.85" width="9.1" height="8.77" fill="#d0d0d0"/><rect x="1224.5" y="524.85" width="9.1" height="8.77" fill="#a8a8a8"/><rect x="1232.9" y="524.85" width="9.1" height="8.77" fill="#808080"/><rect x="1241.3" y="524.85" width="9.1" height="8.77" fill="#e8e8e8"/><rect x="1249.7" y="524.85" width="9.1" height="8.77" fill="#d0d0d0"/><rect x="1258.1" y="524.85" width="9.1" height="8.77" fill="#606060"/><rect x="1266.5" y="524.85" width="9.1" height="8.77" fill="#585858"/><rect x="1274.9" y="524.85" width="8.4" height="8.77" fill="#b8b8b8"/><rect x="1022.9" y="532.92" width="51.1" height="8.77" fill="#ffffff"/><rect x="1073.3" y="532.92" width="9.1" height="8.77" fill="#202020"/><rect x="1081.7" y="532.92" width="42.7" height="8.77" fill="#ffffff"/><rect x="1123.7" y="532.92" width="9.1" height="8.77" fill="#e0e0e0"/><rect x="1132.1" y="532.92" width="9.1" height="8.77" fill="#101010"/><rect x="1140.5" y="532.92" width="9.1" height="8.77" fill="#d8d8d8"/><rect x="1148.9" y="532.92" width="9.1" height="8.77" fill="#ffffff"/><rect x="1157.3" y="532.92" width="9.1" height="8.77" fill="#fcfcfc"/><rect x="1165.7" y="532.92" width="25.9" height="8.77" fill="#ffffff"/><rect x="1190.9" y="532.92" width="9.1" height="8.77" fill="#fcfcfc"/><rect x="1199.3" y="532.92" width="9.1" height="8.77" fill="#ffffff"/><rect x="1207.7" y="532.92" width="9.1" height="8.77" fill="#d0d0d0"/><rect x="1216.1" y="532.92" width="9.1" height="8.77" fill="#a0a0a0"/><rect x="1224.5" y="532.92" width="9.1" height="8.77" fill="#b0b0b0"/><rect x="1232.9" y="532.92" width="9.1" height="8.77" fill="#ffffff"/><rect x="1241.3" y="532.92" width="9.1" height="8.77" fill="#a8a8a8"/><rect x="1249.7" y="532.92" width="9.1" height="8.77" fill="#585858"/><rect x="1258.1" y="532.92" width="9.1" height="8.77" fill="#808080"/><rect x="1266.5" y="532.92" width="9.1" height="8.77" fill="#b0b0b0"/><rect x="1274.9" y="532.92" width="8.4" height="8.77" fill="#383838"/><rect x="1022.9" y="540.99" width="59.5" height="8.77" fill="#ffffff"/><rect x="1081.7" y="540.99" width="9.1" height="8.77" fill="#383838"/><rect x="1090.1" y="540.99" width="25.9" height="8.77" fill="#ffffff"/><rect x="1115.3" y="540.99" width="9.1" height="8.77" fill="#a0a0a0"/><rect x="1123.7" y="540.99" width="9.1" height="8.77" fill="#686868"/><rect x="1132.1" y="540.99" width="67.9" height="8.77" fill="#ffffff"/><rect x="1199.3" y="540.99" width="9.1" height="8.77" fill="#d8d8d8"/><rect x="1207.7" y="540.99" width="9.1" height="8.77" fill="#a8a8a8"/><rect x="1216.1" y="540.99" width="9.1" height="8.77" fill="#f4f4f4"/><rect x="1224.5" y="540.99" width="9.1" height="8.77" fill="#ffffff"/><rect x="1232.9" y="540.99" width="9.1" height="8.77" fill="#909090"/><rect x="1241.3" y="540.99" width="9.1" height="8.77" fill="#606060"/><rect x="1249.7" y="540.99" width="9.1" height="8.77" fill="#a8a8a8"/><rect x="1258.1" y="540.99" width="9.1" height="8.77" fill="#989898"/><rect x="1266.5" y="540.99" width="9.1" height="8.77" fill="#303030"/><rect x="1274.9" y="540.99" width="8.4" height="8.77" fill="#181818"/><rect x="1022.9" y="549.06" width="67.9" height="8.77" fill="#ffffff"/><rect x="1090.1" y="549.06" width="9.1" height="8.77" fill="#888888"/><rect x="1098.5" y="549.06" width="9.1" height="8.77" fill="#d0d0d0"/><rect x="1106.9" y="549.06" width="9.1" height="8.77" fill="#484848"/><rect x="1115.3" y="549.06" width="9.1" height="8.77" fill="#b0b0b0"/><rect x="1123.7" y="549.06" width="67.9" height="8.77" fill="#ffffff"/><rect x="1190.9" y="549.06" width="9.1" height="8.77" fill="#e0e0e0"/><rect x="1199.3" y="549.06" width="9.1" height="8.77" fill="#d0d0d0"/><rect x="1207.7" y="549.06" width="9.1" height="8.77" fill="#ffffff"/><rect x="1216.1" y="549.06" width="9.1" height="8.77" fill="#fcfcfc"/><rect x="1224.5" y="549.06" width="17.5" height="8.77" fill="#808080"/><rect x="1241.3" y="549.06" width="9.1" height="8.77" fill="#dddddd"/><rect x="1249.7" y="549.06" width="9.1" height="8.77" fill="#888888"/><rect x="1258.1" y="549.06" width="9.1" height="8.77" fill="#404040"/><rect x="1266.5" y="549.06" width="9.1" height="8.77" fill="#202020"/><rect x="1274.9" y="549.06" width="8.4" height="8.77" fill="#484848"/><rect x="1022.9" y="557.14" width="76.3" height="8.77" fill="#ffffff"/><rect x="1098.5" y="557.14" width="9.1" height="8.77" fill="#101010"/><rect x="1106.9" y="557.14" width="9.1" height="8.77" fill="#707070"/><rect x="1115.3" y="557.14" width="67.9" height="8.77" fill="#ffffff"/><rect x="1182.5" y="557.14" width="9.1" height="8.77" fill="#e0e0e0"/><rect x="1190.9" y="557.14" width="17.5" height="8.77" fill="#ffffff"/><rect x="1207.7" y="557.14" width="9.1" height="8.77" fill="#e0e0e0"/><rect x="1216.1" y="557.14" width="9.1" height="8.77" fill="#909090"/><rect x="1224.5" y="557.14" width="9.1" height="8.77" fill="#b0b0b0"/><rect x="1232.9" y="557.14" width="9.1" height="8.77" fill="#e8e8e8"/><rect x="1241.3" y="557.14" width="9.1" height="8.77" fill="#808080"/><rect x="1249.7" y="557.14" width="9.1" height="8.77" fill="#585858"/><rect x="1258.1" y="557.14" width="9.1" height="8.77" fill="#404040"/><rect x="1266.5" y="557.14" width="9.1" height="8.77" fill="#808080"/><rect x="1274.9" y="557.14" width="8.4" height="8.77" fill="#b8b8b8"/><rect x="1022.9" y="565.21" width="59.5" height="8.77" fill="#ffffff"/><rect x="1081.7" y="565.21" width="9.1" height="8.77" fill="#c0c0c0"/><rect x="1090.1" y="565.21" width="9.1" height="8.77" fill="#707070"/><rect x="1098.5" y="565.21" width="9.1" height="8.77" fill="#ffffff"/><rect x="1106.9" y="565.21" width="9.1" height="8.77" fill="#d8d8d8"/><rect x="1115.3" y="565.21" width="9.1" height="8.77" fill="#181818"/><rect x="1123.7" y="565.21" width="76.3" height="8.77" fill="#ffffff"/><rect x="1199.3" y="565.21" width="9.1" height="8.77" fill="#d0d0d0"/><rect x="1207.7" y="565.21" width="9.1" height="8.77" fill="#a8a8a8"/><rect x="1216.1" y="565.21" width="9.1" height="8.77" fill="#e8e8e8"/><rect x="1224.5" y="565.21" width="9.1" height="8.77" fill="#dddddd"/><rect x="1232.9" y="565.21" width="9.1" height="8.77" fill="#808080"/><rect x="1241.3" y="565.21" width="9.1" height="8.77" fill="#505050"/><rect x="1249.7" y="565.21" width="9.1" height="8.77" fill="#606060"/><rect x="1258.1" y="565.21" width="9.1" height="8.77" fill="#c0c0c0"/><rect x="1266.5" y="565.21" width="9.1" height="8.77" fill="#808080"/><rect x="1274.9" y="565.21" width="8.4" height="8.77" fill="#040404"/><rect x="1022.9" y="573.28" width="51.1" height="8.77" fill="#ffffff"/><rect x="1073.3" y="573.28" width="9.1" height="8.77" fill="#606060"/><rect x="1081.7" y="573.28" width="9.1" height="8.77" fill="#d0d0d0"/><rect x="1090.1" y="573.28" width="17.5" height="8.77" fill="#ffffff"/><rect x="1106.9" y="573.28" width="9.1" height="8.77" fill="#fafafa"/><rect x="1115.3" y="573.28" width="9.1" height="8.77" fill="#dddddd"/><rect x="1123.7" y="573.28" width="9.1" height="8.77" fill="#383838"/><rect x="1132.1" y="573.28" width="59.5" height="8.77" fill="#ffffff"/><rect x="1190.9" y="573.28" width="17.5" height="8.77" fill="#d0d0d0"/><rect x="1207.7" y="573.28" width="9.1" height="8.77" fill="#ffffff"/><rect x="1216.1" y="573.28" width="9.1" height="8.77" fill="#dddddd"/><rect x="1224.5" y="573.28" width="9.1" height="8.77" fill="#909090"/><rect x="1232.9" y="573.28" width="9.1" height="8.77" fill="#606060"/><rect x="1241.3" y="573.28" width="9.1" height="8.77" fill="#888888"/><rect x="1249.7" y="573.28" width="9.1" height="8.77" fill="#ffffff"/><rect x="1258.1" y="573.28" width="9.1" height="8.77" fill="#606060"/><rect x="1266.5" y="573.28" width="9.1" height="8.77" fill="#0c0c0c"/><rect x="1274.9" y="573.28" width="8.4" height="8.77" fill="#202020"/><rect x="1022.9" y="581.35" width="42.7" height="8.77" fill="#ffffff"/><rect x="1064.9" y="581.35" width="9.1" height="8.77" fill="#080808"/><rect x="1073.3" y="581.35" width="42.7" height="8.77" fill="#ffffff"/><rect x="1115.3" y="581.35" width="9.1" height="8.77" fill="#d8d8d8"/><rect x="1123.7" y="581.35" width="9.1" height="8.77" fill="#d0d0d0"/><rect x="1132.1" y="581.35" width="9.1" height="8.77" fill="#787878"/><rect x="1140.5" y="581.35" width="9.1" height="8.77" fill="#a0a0a0"/><rect x="1148.9" y="581.35" width="34.3" height="8.77" fill="#ffffff"/><rect x="1182.5" y="581.35" width="9.1" height="8.77" fill="#e0e0e0"/><rect x="1190.9" y="581.35" width="17.5" height="8.77" fill="#ffffff"/><rect x="1207.7" y="581.35" width="9.1" height="8.77" fill="#e0e0e0"/><rect x="1216.1" y="581.35" width="17.5" height="8.77" fill="#909090"/><rect x="1232.9" y="581.35" width="9.1" height="8.77" fill="#c8c8c8"/><rect x="1241.3" y="581.35" width="9.1" height="8.77" fill="#dddddd"/><rect x="1249.7" y="581.35" width="9.1" height="8.77" fill="#505050"/><rect x="1258.1" y="581.35" width="9.1" height="8.77" fill="#181818"/><rect x="1266.5" y="581.35" width="9.1" height="8.77" fill="#585858"/><rect x="1274.9" y="581.35" width="8.4" height="8.77" fill="#f0f0f0"/><rect x="1022.9" y="589.42" width="25.9" height="8.77" fill="#ffffff"/><rect x="1048.1" y="589.42" width="9.1" height="8.77" fill="#f0f0f0"/><rect x="1056.5" y="589.42" width="9.1" height="8.77" fill="#606060"/><rect x="1064.9" y="589.42" width="59.5" height="8.77" fill="#ffffff"/><rect x="1123.7" y="589.42" width="9.1" height="8.77" fill="#b8b8b8"/><rect x="1132.1" y="589.42" width="9.1" height="8.77" fill="#b0b0b0"/><rect x="1140.5" y="589.42" width="9.1" height="8.77" fill="#909090"/><rect x="1148.9" y="589.42" width="9.1" height="8.77" fill="#404040"/><rect x="1157.3" y="589.42" width="42.7" height="8.77" fill="#ffffff"/><rect x="1199.3" y="589.42" width="9.1" height="8.77" fill="#e0e0e0"/><rect x="1207.7" y="589.42" width="9.1" height="8.77" fill="#989898"/><rect x="1216.1" y="589.42" width="9.1" height="8.77" fill="#a8a8a8"/><rect x="1224.5" y="589.42" width="9.1" height="8.77" fill="#ffffff"/><rect x="1232.9" y="589.42" width="9.1" height="8.77" fill="#b8b8b8"/><rect x="1241.3" y="589.42" width="9.1" height="8.77" fill="#484848"/><rect x="1249.7" y="589.42" width="9.1" height="8.77" fill="#404040"/><rect x="1258.1" y="589.42" width="9.1" height="8.77" fill="#a0a0a0"/><rect x="1266.5" y="589.42" width="9.1" height="8.77" fill="#b8b8b8"/><rect x="1274.9" y="589.42" width="8.4" height="8.77" fill="#0c0c0c"/><rect x="1022.9" y="597.49" width="17.5" height="8.77" fill="#ffffff"/><rect x="1039.7" y="597.49" width="9.1" height="8.77" fill="#909090"/><rect x="1048.1" y="597.49" width="9.1" height="8.77" fill="#d8d8d8"/><rect x="1056.5" y="597.49" width="76.3" height="8.77" fill="#ffffff"/><rect x="1132.1" y="597.49" width="9.1" height="8.77" fill="#a8a8a8"/><rect x="1140.5" y="597.49" width="9.1" height="8.77" fill="#909090"/><rect x="1148.9" y="597.49" width="9.1" height="8.77" fill="#989898"/><rect x="1157.3" y="597.49" width="9.1" height="8.77" fill="#080808"/><rect x="1165.7" y="597.49" width="25.9" height="8.77" fill="#ffffff"/><rect x="1190.9" y="597.49" width="9.1" height="8.77" fill="#d8d8d8"/><rect x="1199.3" y="597.49" width="9.1" height="8.77" fill="#b8b8b8"/><rect x="1207.7" y="597.49" width="9.1" height="8.77" fill="#e8e8e8"/><rect x="1216.1" y="597.49" width="9.1" height="8.77" fill="#ffffff"/><rect x="1224.5" y="597.49" width="9.1" height="8.77" fill="#a0a0a0"/><rect x="1232.9" y="597.49" width="9.1" height="8.77" fill="#585858"/><rect x="1241.3" y="597.49" width="9.1" height="8.77" fill="#707070"/><rect x="1249.7" y="597.49" width="9.1" height="8.77" fill="#e8e8e8"/><rect x="1258.1" y="597.49" width="9.1" height="8.77" fill="#808080"/><rect x="1266.5" y="597.49" width="9.1" height="8.77" fill="#202020"/><rect x="1274.9" y="597.49" width="8.4" height="8.77" fill="#383838"/><rect x="1022.9" y="605.56" width="9.1" height="8.77" fill="#ffffff"/><rect x="1031.3" y="605.56" width="9.1" height="8.77" fill="#383838"/><rect x="1039.7" y="605.56" width="101.5" height="8.77" fill="#ffffff"/><rect x="1140.5" y="605.56" width="9.1" height="8.77" fill="#989898"/><rect x="1148.9" y="605.56" width="9.1" height="8.77" fill="#787878"/><rect x="1157.3" y="605.56" width="9.1" height="8.77" fill="#888888"/><rect x="1165.7" y="605.56" width="9.1" height="8.77" fill="#383838"/><rect x="1174.1" y="605.56" width="9.1" height="8.77" fill="#d0d0d0"/><rect x="1182.5" y="605.56" width="9.1" height="8.77" fill="#e0e0e0"/><rect x="1190.9" y="605.56" width="9.1" height="8.77" fill="#e8e8e8"/><rect x="1199.3" y="605.56" width="17.5" height="8.77" fill="#ffffff"/><rect x="1216.1" y="605.56" width="9.1" height="8.77" fill="#a0a0a0"/><rect x="1224.5" y="605.56" width="9.1" height="8.77" fill="#707070"/><rect x="1232.9" y="605.56" width="9.1" height="8.77" fill="#a8a8a8"/><rect x="1241.3" y="605.56" width="9.1" height="8.77" fill="#ffffff"/><rect x="1249.7" y="605.56" width="9.1" height="8.77" fill="#585858"/><rect x="1258.1" y="605.56" width="9.1" height="8.77" fill="#202020"/><rect x="1266.5" y="605.56" width="9.1" height="8.77" fill="#0c0c0c"/><rect x="1274.9" y="605.56" width="8.4" height="8.77" fill="#888888"/><rect x="1022.9" y="613.63" width="9.1" height="8.77" fill="#383838"/><rect x="1031.3" y="613.63" width="118.3" height="8.77" fill="#ffffff"/><rect x="1148.9" y="613.63" width="9.1" height="8.77" fill="#a8a8a8"/><rect x="1157.3" y="613.63" width="9.1" height="8.77" fill="#585858"/><rect x="1165.7" y="613.63" width="9.1" height="8.77" fill="#606060"/><rect x="1174.1" y="613.63" width="9.1" height="8.77" fill="#505050"/><rect x="1182.5" y="613.63" width="9.1" height="8.77" fill="#686868"/><rect x="1190.9" y="613.63" width="9.1" height="8.77" fill="#ffffff"/><rect x="1199.3" y="613.63" width="9.1" height="8.77" fill="#f8f8f8"/><rect x="1207.7" y="613.63" width="17.5" height="8.77" fill="#a0a0a0"/><rect x="1224.5" y="613.63" width="9.1" height="8.77" fill="#eeeeee"/><rect x="1232.9" y="613.63" width="9.1" height="8.77" fill="#dddddd"/><rect x="1241.3" y="613.63" width="9.1" height="8.77" fill="#383838"/><rect x="1249.7" y="613.63" width="9.1" height="8.77" fill="#080808"/><rect x="1258.1" y="613.63" width="9.1" height="8.77" fill="#404040"/><rect x="1266.5" y="613.63" width="9.1" height="8.77" fill="#dddddd"/><rect x="1274.9" y="613.63" width="8.4" height="8.77" fill="#888888"/><rect x="1022.9" y="621.7" width="135.1" height="8.77" fill="#ffffff"/><rect x="1157.3" y="621.7" width="9.1" height="8.77" fill="#b8b8b8"/><rect x="1165.7" y="621.7" width="9.1" height="8.77" fill="#505050"/><rect x="1174.1" y="621.7" width="9.1" height="8.77" fill="#484848"/><rect x="1182.5" y="621.7" width="9.1" height="8.77" fill="#585858"/><rect x="1190.9" y="621.7" width="9.1" height="8.77" fill="#181818"/><rect x="1199.3" y="621.7" width="9.1" height="8.77" fill="#b8b8b8"/><rect x="1207.7" y="621.7" width="9.1" height="8.77" fill="#dddddd"/><rect x="1216.1" y="621.7" width="9.1" height="8.77" fill="#ffffff"/><rect x="1224.5" y="621.7" width="9.1" height="8.77" fill="#a8a8a8"/><rect x="1232.9" y="621.7" width="9.1" height="8.77" fill="#303030"/><rect x="1241.3" y="621.7" width="9.1" height="8.77" fill="#202020"/><rect x="1249.7" y="621.7" width="9.1" height="8.77" fill="#808080"/><rect x="1258.1" y="621.7" width="9.1" height="8.77" fill="#ffffff"/><rect x="1266.5" y="621.7" width="9.1" height="8.77" fill="#585858"/><rect x="1274.9" y="621.7" width="8.4" height="8.77" fill="#202020"/><rect x="1022.9" y="629.77" width="143.5" height="8.77" fill="#ffffff"/><rect x="1165.7" y="629.77" width="9.1" height="8.77" fill="#e8e8e8"/><rect x="1174.1" y="629.77" width="9.1" height="8.77" fill="#585858"/><rect x="1182.5" y="629.77" width="9.1" height="8.77" fill="#202020"/><rect x="1190.9" y="629.77" width="9.1" height="8.77" fill="#484848"/><rect x="1199.3" y="629.77" width="9.1" height="8.77" fill="#0c0c0c"/><rect x="1207.7" y="629.77" width="9.1" height="8.77" fill="#e8e8e8"/><rect x="1216.1" y="629.77" width="9.1" height="8.77" fill="#909090"/><rect x="1224.5" y="629.77" width="9.1" height="8.77" fill="#404040"/><rect x="1232.9" y="629.77" width="9.1" height="8.77" fill="#606060"/><rect x="1241.3" y="629.77" width="17.5" height="8.77" fill="#d0d0d0"/><rect x="1258.1" y="629.77" width="17.5" height="8.77" fill="#484848"/><rect x="1274.9" y="629.77" width="8.4" height="8.77" fill="#d8d8d8"/><rect x="1022.9" y="637.85" width="151.9" height="8.77" fill="#ffffff"/><rect x="1174.1" y="637.85" width="9.1" height="8.77" fill="#fcfcfc"/><rect x="1182.5" y="637.85" width="9.1" height="8.77" fill="#686868"/><rect x="1190.9" y="637.85" width="9.1" height="8.77" fill="#101010"/><rect x="1199.3" y="637.85" width="17.5" height="8.77" fill="#282828"/><rect x="1216.1" y="637.85" width="9.1" height="8.77" fill="#606060"/><rect x="1224.5" y="637.85" width="9.1" height="8.77" fill="#a8a8a8"/><rect x="1232.9" y="637.85" width="9.1" height="8.77" fill="#ffffff"/><rect x="1241.3" y="637.85" width="9.1" height="8.77" fill="#989898"/><rect x="1249.7" y="637.85" width="9.1" height="8.77" fill="#484848"/><rect x="1258.1" y="637.85" width="17.5" height="8.77" fill="#808080"/><rect x="1274.9" y="637.85" width="8.4" height="8.77" fill="#505050"/><rect x="1022.9" y="645.92" width="143.5" height="8.77" fill="#ffffff"/><rect x="1165.7" y="645.92" width="17.5" height="8.77" fill="#eeeeee"/><rect x="1182.5" y="645.92" width="9.1" height="8.77" fill="#ffffff"/><rect x="1190.9" y="645.92" width="9.1" height="8.77" fill="#888888"/><rect x="1199.3" y="645.92" width="9.1" height="8.77" fill="#101010"/><rect x="1207.7" y="645.92" width="9.1" height="8.77" fill="#080808"/><rect x="1216.1" y="645.92" width="9.1" height="8.77" fill="#202020"/><rect x="1224.5" y="645.92" width="9.1" height="8.77" fill="#484848"/><rect x="1232.9" y="645.92" width="9.1" height="8.77" fill="#808080"/><rect x="1241.3" y="645.92" width="9.1" height="8.77" fill="#606060"/><rect x="1249.7" y="645.92" width="9.1" height="8.77" fill="#d0d0d0"/><rect x="1258.1" y="645.92" width="9.1" height="8.77" fill="#404040"/><rect x="1266.5" y="645.92" width="16.8" height="8.77" fill="#707070"/><rect x="1022.9" y="653.99" width="160.3" height="8.77" fill="#ffffff"/><rect x="1182.5" y="653.99" width="9.1" height="8.77" fill="#dddddd"/><rect x="1190.9" y="653.99" width="9.1" height="8.77" fill="#a0a0a0"/><rect x="1199.3" y="653.99" width="9.1" height="8.77" fill="#c8c8c8"/><rect x="1207.7" y="653.99" width="17.5" height="8.77" fill="#181818"/><rect x="1224.5" y="653.99" width="17.5" height="8.77" fill="#101010"/><rect x="1241.3" y="653.99" width="9.1" height="8.77" fill="#dddddd"/><rect x="1249.7" y="653.99" width="9.1" height="8.77" fill="#000000"/><rect x="1258.1" y="653.99" width="9.1" height="8.77" fill="#686868"/><rect x="1266.5" y="653.99" width="9.1" height="8.77" fill="#484848"/><rect x="1274.9" y="653.99" width="8.4" height="8.77" fill="#202020"/><rect x="1022.9" y="662.06" width="151.9" height="8.77" fill="#ffffff"/><rect x="1174.1" y="662.06" width="9.1" height="8.77" fill="#e8e8e8"/><rect x="1182.5" y="662.06" width="25.9" height="8.77" fill="#d0d0d0"/><rect x="1207.7" y="662.06" width="9.1" height="8.77" fill="#c8c8c8"/><rect x="1216.1" y="662.06" width="17.5" height="8.77" fill="#383838"/><rect x="1232.9" y="662.06" width="9.1" height="8.77" fill="#101010"/><rect x="1241.3" y="662.06" width="9.1" height="8.77" fill="#080808"/><rect x="1249.7" y="662.06" width="9.1" height="8.77" fill="#606060"/><rect x="1258.1" y="662.06" width="9.1" height="8.77" fill="#282828"/><rect x="1266.5" y="662.06" width="9.1" height="8.77" fill="#303030"/><rect x="1274.9" y="662.06" width="8.4" height="8.77" fill="#ffffff"/><rect x="1022.9" y="670.13" width="177.1" height="8.07" fill="#ffffff"/><rect x="1199.3" y="670.13" width="9.1" height="8.07" fill="#909090"/><rect x="1207.7" y="670.13" width="9.1" height="8.07" fill="#808080"/><rect x="1216.1" y="670.13" width="9.1" height="8.07" fill="#e8e8e8"/><rect x="1224.5" y="670.13" width="9.1" height="8.07" fill="#686868"/><rect x="1232.9" y="670.13" width="17.5" height="8.07" fill="#383838"/><rect x="1249.7" y="670.13" width="9.1" height="8.07" fill="#040404"/><rect x="1258.1" y="670.13" width="9.1" height="8.07" fill="#606060"/><rect x="1266.5" y="670.13" width="16.8" height="8.07" fill="#ffffff"/></g>
</g>
<rect x="87" y="51.5" width="315" height="250.7" fill="none" stroke="#000" stroke-width="2.6"/>
<path d="M87 302.2v11.1M192 302.2v11.1M297 302.2v11.1M402 302.2v11.1M87 302.2h-11.1M87 239.52h-11.1M87 176.85h-11.1M87 114.18h-11.1M87 51.5h-11.1" stroke="#000" stroke-width="2.6" fill="none"/>
<text transform="translate(87 350.4) scale(0.9700 1.0000)" font-size="35.5" text-anchor="middle"  >1</text>
<text transform="translate(192 350.4) scale(0.9700 1.0000)" font-size="35.5" text-anchor="middle"  >2</text>
<text transform="translate(297 350.4) scale(0.9700 1.0000)" font-size="35.5" text-anchor="middle"  >3</text>
<text transform="translate(402 350.4) scale(0.9700 1.0000)" font-size="35.5" text-anchor="middle"  >4</text>
<text transform="translate(63.3 315) scale(0.9700 1.0000)" font-size="35.5" text-anchor="end"  >0</text>
<text transform="translate(63.3 252.32) scale(0.9700 1.0000)" font-size="35.5" text-anchor="end"  >1</text>
<text transform="translate(63.3 189.65) scale(0.9700 1.0000)" font-size="35.5" text-anchor="end"  >2</text>
<text transform="translate(63.3 126.98) scale(0.9700 1.0000)" font-size="35.5" text-anchor="end"  >3</text>
<text transform="translate(63.3 64.3) scale(0.9700 1.0000)" font-size="35.5" text-anchor="end"  >4</text>
<text transform="translate(244.5 392.3)" font-size="30.7" text-anchor="middle" font-style="italic" >JS/t</text>
<text transform="translate(24.2 177.85) rotate(-90) scale(1.1300 1.0000)" font-size="30.7" text-anchor="middle" font-style="italic" >μ/t</text>
<text transform="translate(8 26.8) scale(1.0870 1.0000)" font-size="34.5" text-anchor="start" font-style="italic" font-weight="bold" >a</text>
<rect x="497" y="51.5" width="252.3" height="250.7" fill="none" stroke="#000" stroke-width="2.6"/>
<path d="M497 302.2v11.1M581.1 302.2v11.1M665.2 302.2v11.1M749.3 302.2v11.1M497 302.2h-11.1M497 239.52h-11.1M497 176.85h-11.1M497 114.18h-11.1M497 51.5h-11.1" stroke="#000" stroke-width="2.6" fill="none"/>
<text transform="translate(497 350.4) scale(0.9700 1.0000)" font-size="35.5" text-anchor="middle"  >1</text>
<text transform="translate(581.1 350.4) scale(0.9700 1.0000)" font-size="35.5" text-anchor="middle"  >2</text>
<text transform="translate(665.2 350.4) scale(0.9700 1.0000)" font-size="35.5" text-anchor="middle"  >3</text>
<text transform="translate(749.3 350.4) scale(0.9700 1.0000)" font-size="35.5" text-anchor="middle"  >4</text>
<text transform="translate(473.3 315) scale(0.9700 1.0000)" font-size="35.5" text-anchor="end"  >0</text>
<text transform="translate(473.3 252.32) scale(0.9700 1.0000)" font-size="35.5" text-anchor="end"  >1</text>
<text transform="translate(473.3 189.65) scale(0.9700 1.0000)" font-size="35.5" text-anchor="end"  >2</text>
<text transform="translate(473.3 126.98) scale(0.9700 1.0000)" font-size="35.5" text-anchor="end"  >3</text>
<text transform="translate(473.3 64.3) scale(0.9700 1.0000)" font-size="35.5" text-anchor="end"  >4</text>
<text transform="translate(623.15 392.3)" font-size="30.7" text-anchor="middle" font-style="italic" >JS/t</text>
<text transform="translate(434.2 177.85) rotate(-90) scale(1.1300 1.0000)" font-size="30.7" text-anchor="middle" font-style="italic" >μ/t</text>
<text transform="translate(434.6 26.8) scale(1.0653 0.9500)" font-size="34.5" text-anchor="start" font-style="italic" font-weight="bold" >b</text>
<rect x="1022.9" y="51.5" width="260.4" height="250.7" fill="none" stroke="#000" stroke-width="2.6"/>
<path d="M1022.9 302.2v11.1M1109.7 302.2v11.1M1196.5 302.2v11.1M1283.3 302.2v11.1M1022.9 302.2h-11.1M1022.9 239.52h-11.1M1022.9 176.85h-11.1M1022.9 114.18h-11.1M1022.9 51.5h-11.1" stroke="#000" stroke-width="2.6" fill="none"/>
<text transform="translate(1022.9 350.4) scale(0.9700 1.0000)" font-size="35.5" text-anchor="middle"  >1</text>
<text transform="translate(1109.7 350.4) scale(0.9700 1.0000)" font-size="35.5" text-anchor="middle"  >2</text>
<text transform="translate(1196.5 350.4) scale(0.9700 1.0000)" font-size="35.5" text-anchor="middle"  >3</text>
<text transform="translate(1283.3 350.4) scale(0.9700 1.0000)" font-size="35.5" text-anchor="middle"  >4</text>
<text transform="translate(999.2 315) scale(0.9700 1.0000)" font-size="35.5" text-anchor="end"  >0</text>
<text transform="translate(999.2 252.32) scale(0.9700 1.0000)" font-size="35.5" text-anchor="end"  >1</text>
<text transform="translate(999.2 189.65) scale(0.9700 1.0000)" font-size="35.5" text-anchor="end"  >2</text>
<text transform="translate(999.2 126.98) scale(0.9700 1.0000)" font-size="35.5" text-anchor="end"  >3</text>
<text transform="translate(999.2 64.3) scale(0.9700 1.0000)" font-size="35.5" text-anchor="end"  >4</text>
<text transform="translate(1153.1 392.3)" font-size="30.7" text-anchor="middle" font-style="italic" >JS/t</text>
<text transform="translate(960.1 177.85) rotate(-90) scale(1.1300 1.0000)" font-size="30.7" text-anchor="middle" font-style="italic" >μ/t</text>
<text transform="translate(957.6 26.8) scale(1.0000 0.9700)" font-size="34.5" text-anchor="start" font-style="italic" font-weight="bold" >c</text>
<rect x="87" y="428" width="315" height="250.2" fill="none" stroke="#000" stroke-width="2.6"/>
<path d="M87 678.2v11.1M192 678.2v11.1M297 678.2v11.1M402 678.2v11.1M87 678.2h-11.1M87 615.65h-11.1M87 553.1h-11.1M87 490.55h-11.1M87 428h-11.1" stroke="#000" stroke-width="2.6" fill="none"/>
<text transform="translate(87 726.4) scale(0.9700 1.0000)" font-size="35.5" text-anchor="middle"  >1</text>
<text transform="translate(192 726.4) scale(0.9700 1.0000)" font-size="35.5" text-anchor="middle"  >2</text>
<text transform="translate(297 726.4) scale(0.9700 1.0000)" font-size="35.5" text-anchor="middle"  >3</text>
<text transform="translate(402 726.4) scale(0.9700 1.0000)" font-size="35.5" text-anchor="middle"  >4</text>
<text transform="translate(63.3 691) scale(0.9700 1.0000)" font-size="35.5" text-anchor="end"  >0</text>
<text transform="translate(63.3 628.45) scale(0.9700 1.0000)" font-size="35.5" text-anchor="end"  >1</text>
<text transform="translate(63.3 565.9) scale(0.9700 1.0000)" font-size="35.5" text-anchor="end"  >2</text>
<text transform="translate(63.3 503.35) scale(0.9700 1.0000)" font-size="35.5" text-anchor="end"  >3</text>
<text transform="translate(63.3 440.8) scale(0.9700 1.0000)" font-size="35.5" text-anchor="end"  >4</text>
<text transform="translate(244.5 768.3)" font-size="30.7" text-anchor="middle" font-style="italic" >JS/t</text>
<text transform="translate(24.2 554.1) rotate(-90) scale(1.1300 1.0000)" font-size="30.7" text-anchor="middle" font-style="italic" >μ/t</text>
<text transform="translate(8 415.8) scale(1.0870 0.9700)" font-size="34.5" text-anchor="start" font-style="italic" font-weight="bold" >d</text>
<rect x="497" y="428" width="252.3" height="250.2" fill="none" stroke="#000" stroke-width="2.6"/>
<path d="M497 678.2v11.1M581.1 678.2v11.1M665.2 678.2v11.1M749.3 678.2v11.1M497 678.2h-11.1M497 615.65h-11.1M497 553.1h-11.1M497 490.55h-11.1M497 428h-11.1" stroke="#000" stroke-width="2.6" fill="none"/>
<text transform="translate(497 726.4) scale(0.9700 1.0000)" font-size="35.5" text-anchor="middle"  >1</text>
<text transform="translate(581.1 726.4) scale(0.9700 1.0000)" font-size="35.5" text-anchor="middle"  >2</text>
<text transform="translate(665.2 726.4) scale(0.9700 1.0000)" font-size="35.5" text-anchor="middle"  >3</text>
<text transform="translate(749.3 726.4) scale(0.9700 1.0000)" font-size="35.5" text-anchor="middle"  >4</text>
<text transform="translate(473.3 691) scale(0.9700 1.0000)" font-size="35.5" text-anchor="end"  >0</text>
<text transform="translate(473.3 628.45) scale(0.9700 1.0000)" font-size="35.5" text-anchor="end"  >1</text>
<text transform="translate(473.3 565.9) scale(0.9700 1.0000)" font-size="35.5" text-anchor="end"  >2</text>
<text transform="translate(473.3 503.35) scale(0.9700 1.0000)" font-size="35.5" text-anchor="end"  >3</text>
<text transform="translate(473.3 440.8) scale(0.9700 1.0000)" font-size="35.5" text-anchor="end"  >4</text>
<text transform="translate(623.15 768.3)" font-size="30.7" text-anchor="middle" font-style="italic" >JS/t</text>
<text transform="translate(434.2 554.1) rotate(-90) scale(1.1300 1.0000)" font-size="30.7" text-anchor="middle" font-style="italic" >μ/t</text>
<text transform="translate(433.5 415.8) scale(1.1957 1.0000)" font-size="34.5" text-anchor="start" font-style="italic" font-weight="bold" >e</text>
<rect x="1022.9" y="428" width="260.4" height="250.2" fill="none" stroke="#000" stroke-width="2.6"/>
<path d="M1022.9 678.2v11.1M1109.7 678.2v11.1M1196.5 678.2v11.1M1283.3 678.2v11.1M1022.9 678.2h-11.1M1022.9 615.65h-11.1M1022.9 553.1h-11.1M1022.9 490.55h-11.1M1022.9 428h-11.1" stroke="#000" stroke-width="2.6" fill="none"/>
<text transform="translate(1022.9 726.4) scale(0.9700 1.0000)" font-size="35.5" text-anchor="middle"  >1</text>
<text transform="translate(1109.7 726.4) scale(0.9700 1.0000)" font-size="35.5" text-anchor="middle"  >2</text>
<text transform="translate(1196.5 726.4) scale(0.9700 1.0000)" font-size="35.5" text-anchor="middle"  >3</text>
<text transform="translate(1283.3 726.4) scale(0.9700 1.0000)" font-size="35.5" text-anchor="middle"  >4</text>
<text transform="translate(999.2 691) scale(0.9700 1.0000)" font-size="35.5" text-anchor="end"  >0</text>
<text transform="translate(999.2 628.45) scale(0.9700 1.0000)" font-size="35.5" text-anchor="end"  >1</text>
<text transform="translate(999.2 565.9) scale(0.9700 1.0000)" font-size="35.5" text-anchor="end"  >2</text>
<text transform="translate(999.2 503.35) scale(0.9700 1.0000)" font-size="35.5" text-anchor="end"  >3</text>
<text transform="translate(999.2 440.8) scale(0.9700 1.0000)" font-size="35.5" text-anchor="end"  >4</text>
<text transform="translate(1153.1 768.3)" font-size="30.7" text-anchor="middle" font-style="italic" >JS/t</text>
<text transform="translate(960.1 554.1) rotate(-90) scale(1.1300 1.0000)" font-size="30.7" text-anchor="middle" font-style="italic" >μ/t</text>
<text transform="translate(957.4 415.8) scale(1.2392 0.9600)" font-size="34.5" text-anchor="start" font-style="italic" font-weight="bold" >f</text>
<rect x="764.6" y="51.5" width="12.4" height="250.7" fill="url(#gr)" stroke="#000" stroke-width="2.6"/>
<text transform="translate(800.6 64.3) scale(0.9700 1.0000)" font-size="35.5" text-anchor="start"  letter-spacing="0.95">0.10</text>
<text transform="translate(800.6 189.65) scale(0.9700 1.0000)" font-size="35.5" text-anchor="start"  letter-spacing="0.95">0.05</text>
<text transform="translate(800.6 315) scale(0.9700 1.0000)" font-size="35.5" text-anchor="start"  letter-spacing="0.95">0.00</text>
<path d="M777 51.5h11.1M777 176.85h11.1M777 302.2h11.1" stroke="#000" stroke-width="2.6" fill="none"/>
<text transform="translate(907.3 176.45) rotate(-90)" font-size="31" text-anchor="middle"  letter-spacing="0.8">1D localizer gap (<tspan font-style="italic">t</tspan>)</text>
<rect x="1299.8" y="51.5" width="12.5" height="250.7" fill="url(#gr)" stroke="#000" stroke-width="2.6"/>
<text transform="translate(1335.9 64.3) scale(0.9700 1.0000)" font-size="35.5" text-anchor="start"  letter-spacing="0.95">0.10</text>
<text transform="translate(1335.9 189.65) scale(0.9700 1.0000)" font-size="35.5" text-anchor="start"  letter-spacing="0.95">0.05</text>
<text transform="translate(1335.9 315) scale(0.9700 1.0000)" font-size="35.5" text-anchor="start"  letter-spacing="0.95">0.00</text>
<path d="M1312.3 51.5h11.1M1312.3 176.85h11.1M1312.3 302.2h11.1" stroke="#000" stroke-width="2.6" fill="none"/>
<text transform="translate(1442.6 176.45) rotate(-90)" font-size="31" text-anchor="middle"  letter-spacing="0.8">2D localizer gap (<tspan font-style="italic">t</tspan>)</text>
<rect x="764.6" y="428" width="12.4" height="250.2" fill="url(#gr)" stroke="#000" stroke-width="2.6"/>
<text transform="translate(800.6 490.84) scale(0.9700 1.0000)" font-size="35.5" text-anchor="start"  letter-spacing="0.95">0.04</text>
<text transform="translate(800.6 590.92) scale(0.9700 1.0000)" font-size="35.5" text-anchor="start"  letter-spacing="0.95">0.02</text>
<text transform="translate(800.6 691) scale(0.9700 1.0000)" font-size="35.5" text-anchor="start"  letter-spacing="0.95">0.00</text>
<path d="M777 478.04h11.1M777 578.12h11.1M777 678.2h11.1" stroke="#000" stroke-width="2.6" fill="none"/>
<text transform="translate(907.3 552.7) rotate(-90)" font-size="31" text-anchor="middle"  letter-spacing="0.8">1D localizer gap (<tspan font-style="italic">t</tspan>)</text>
<rect x="1299.8" y="428" width="12.5" height="250.2" fill="url(#gr)" stroke="#000" stroke-width="2.6"/>
<text transform="translate(1335.9 490.84) scale(0.9700 1.0000)" font-size="35.5" text-anchor="start"  letter-spacing="0.95">0.04</text>
<text transform="translate(1335.9 590.92) scale(0.9700 1.0000)" font-size="35.5" text-anchor="start"  letter-spacing="0.95">0.02</text>
<text transform="translate(1335.9 691) scale(0.9700 1.0000)" font-size="35.5" text-anchor="start"  letter-spacing="0.95">0.00</text>
<path d="M1312.3 478.04h11.1M1312.3 578.12h11.1M1312.3 678.2h11.1" stroke="#000" stroke-width="2.6" fill="none"/>
<text transform="translate(1442.6 552.7) rotate(-90)" font-size="31" text-anchor="middle"  letter-spacing="0.8">2D localizer gap (<tspan font-style="italic">t</tspan>)</text>
<rect x="71.7" y="819.4" width="1332.2" height="97.6" rx="5.3" ry="5.3" fill="#fff" stroke="#cfcfcf" stroke-width="2.7"/>
<rect x="79.9" y="834.5" width="55.5" height="21.4" fill="#fe1e0d"/>
<path d="M158.9 834.5v25.8M197.7 834.5v25.8" stroke="#000" stroke-width="2.1" fill="none"/>
<text transform="translate(162.7 854.3) scale(0.9700 1.0000)" font-size="25.5" text-anchor="start" font-style="italic" >C</text>
<text transform="translate(183.7 844) scale(0.9000 1.0000)" font-size="18" text-anchor="start" font-style="italic" >L</text>
<text transform="translate(181.7 861.2)" font-size="18" text-anchor="start" font-weight="bold" >λ</text>
<text transform="translate(208.7 854.3) scale(1.3100 1.0000)" font-size="25.5" text-anchor="start"  stroke="#000" stroke-width="0.45">=</text>
<text transform="translate(234.7 854.3) scale(1.1400 1.0000)" font-size="25.5" text-anchor="start"  >2</text>
<text transform="translate(250.6 854.3)" font-size="25.5" text-anchor="start"  >,</text>
<text transform="translate(263.7 854.3) scale(1.0800 1.0000)" font-size="25.5" text-anchor="start" font-style="italic" >z</text>
<text transform="translate(277.6 859.1) scale(1.2000 1.0000)" font-size="18" text-anchor="start"  >2</text>
<text transform="translate(289.4 859.1)" font-size="18" text-anchor="start"  >,</text>
<text transform="translate(298.7 859.1) scale(1.0500 1.0000)" font-size="18" text-anchor="start" font-style="italic" >x</text>
<text transform="translate(315.6 854.3) scale(1.3300 1.0000)" font-size="25.5" text-anchor="start"  stroke="#000" stroke-width="0.45">=</text>
<text transform="translate(346.7 854.3) scale(1.3800 1.0000)" font-size="25.5" text-anchor="start"  stroke="#000" stroke-width="0.45">−</text>
<text transform="translate(374.5 854.3) scale(1.0200 1.0000)" font-size="25.5" text-anchor="start"  >1</text>
<rect x="79.9" y="879.3" width="55.5" height="21.4" fill="#5170ee"/>
<path d="M158.9 879.3v25.8M197.7 879.3v25.8" stroke="#000" stroke-width="2.1" fill="none"/>
<text transform="translate(162.7 899.1) scale(0.9700 1.0000)" font-size="25.5" text-anchor="start" font-style="italic" >C</text>
<text transform="translate(183.7 888.8) scale(0.9000 1.0000)" font-size="18" text-anchor="start" font-style="italic" >L</text>
<text transform="translate(181.7 906)" font-size="18" text-anchor="start" font-weight="bold" >λ</text>
<text transform="translate(208.7 899.1) scale(1.3100 1.0000)" font-size="25.5" text-anchor="start"  stroke="#000" stroke-width="0.45">=</text>
<text transform="translate(234.7 899.1) scale(1.1400 1.0000)" font-size="25.5" text-anchor="start"  >2</text>
<text transform="translate(250.6 899.1)" font-size="25.5" text-anchor="start"  >,</text>
<text transform="translate(263.7 899.1) scale(1.0800 1.0000)" font-size="25.5" text-anchor="start" font-style="italic" >z</text>
<text transform="translate(277.6 903.9) scale(1.2000 1.0000)" font-size="18" text-anchor="start"  >2</text>
<text transform="translate(289.4 903.9)" font-size="18" text-anchor="start"  >,</text>
<text transform="translate(298.7 903.9) scale(1.0500 1.0000)" font-size="18" text-anchor="start" font-style="italic" >x</text>
<text transform="translate(315.6 899.1) scale(1.3300 1.0000)" font-size="25.5" text-anchor="start"  stroke="#000" stroke-width="0.45">=</text>
<text transform="translate(342.3 899.1) scale(1.0200 1.0000)" font-size="25.5" text-anchor="start"  >1</text>
<rect x="437.7" y="834.5" width="55.5" height="21.4" fill="#ee8a23"/>
<path d="M516.9 834.5v25.8M555.7 834.5v25.8" stroke="#000" stroke-width="2.1" fill="none"/>
<text transform="translate(520.7 854.3) scale(0.9700 1.0000)" font-size="25.5" text-anchor="start" font-style="italic" >C</text>
<text transform="translate(541.7 844) scale(0.9000 1.0000)" font-size="18" text-anchor="start" font-style="italic" >L</text>
<text transform="translate(539.7 861.2)" font-size="18" text-anchor="start" font-weight="bold" >λ</text>
<text transform="translate(566.7 854.3) scale(1.3100 1.0000)" font-size="25.5" text-anchor="start"  stroke="#000" stroke-width="0.45">=</text>
<text transform="translate(592.7 854.3) scale(1.0200 1.0000)" font-size="25.5" text-anchor="start"  >1</text>
<text transform="translate(608.6 854.3)" font-size="25.5" text-anchor="start"  >,</text>
<text transform="translate(621.7 854.3) scale(1.0800 1.0000)" font-size="25.5" text-anchor="start" font-style="italic" >z</text>
<text transform="translate(635.6 859.1) scale(1.2000 1.0000)" font-size="18" text-anchor="start"  >2</text>
<text transform="translate(647.4 859.1)" font-size="18" text-anchor="start"  >,</text>
<text transform="translate(656.7 859.1) scale(1.0500 1.0000)" font-size="18" text-anchor="start" font-style="italic" >x</text>
<text transform="translate(673.6 854.3) scale(1.3300 1.0000)" font-size="25.5" text-anchor="start"  stroke="#000" stroke-width="0.45">=</text>
<text transform="translate(704.7 854.3) scale(1.3800 1.0000)" font-size="25.5" text-anchor="start"  stroke="#000" stroke-width="0.45">−</text>
<text transform="translate(732.5 854.3) scale(1.0200 1.0000)" font-size="25.5" text-anchor="start"  >1</text>
<rect x="437.7" y="879.3" width="55.5" height="21.4" fill="#7f1a8f"/>
<path d="M516.9 879.3v25.8M555.7 879.3v25.8" stroke="#000" stroke-width="2.1" fill="none"/>
<text transform="translate(520.7 899.1) scale(0.9700 1.0000)" font-size="25.5" text-anchor="start" font-style="italic" >C</text>
<text transform="translate(541.7 888.8) scale(0.9000 1.0000)" font-size="18" text-anchor="start" font-style="italic" >L</text>
<text transform="translate(539.7 906)" font-size="18" text-anchor="start" font-weight="bold" >λ</text>
<text transform="translate(566.7 899.1) scale(1.3100 1.0000)" font-size="25.5" text-anchor="start"  stroke="#000" stroke-width="0.45">=</text>
<text transform="translate(592.7 899.1) scale(1.0200 1.0000)" font-size="25.5" text-anchor="start"  >1</text>
<text transform="translate(608.6 899.1)" font-size="25.5" text-anchor="start"  >,</text>
<text transform="translate(621.7 899.1) scale(1.0800 1.0000)" font-size="25.5" text-anchor="start" font-style="italic" >z</text>
<text transform="translate(635.6 903.9) scale(1.2000 1.0000)" font-size="18" text-anchor="start"  >2</text>
<text transform="translate(647.4 903.9)" font-size="18" text-anchor="start"  >,</text>
<text transform="translate(656.7 903.9) scale(1.0500 1.0000)" font-size="18" text-anchor="start" font-style="italic" >x</text>
<text transform="translate(673.6 899.1) scale(1.3300 1.0000)" font-size="25.5" text-anchor="start"  stroke="#000" stroke-width="0.45">=</text>
<text transform="translate(700.3 899.1) scale(1.0200 1.0000)" font-size="25.5" text-anchor="start"  >1</text>
<rect x="795.3" y="834.5" width="55.5" height="21.4" fill="#2b6f17"/>
<text transform="translate(869.3 854.3) scale(0.9700 1.0000)" font-size="25.5" text-anchor="start" font-style="italic" >C</text>
<text transform="translate(890.3 844) scale(0.9000 1.0000)" font-size="18" text-anchor="start" font-style="italic" >L</text>
<text transform="translate(888.3 861.2)" font-size="18" text-anchor="start" font-weight="bold" >λ</text>
<text transform="translate(906.7 854.3) scale(1.3100 1.0000)" font-size="25.5" text-anchor="start"  stroke="#000" stroke-width="0.45">=</text>
<text transform="translate(932.7 854.3) scale(1.0300 1.0000)" font-size="25.5" text-anchor="start"  >0</text>
<text transform="translate(948.6 854.3)" font-size="25.5" text-anchor="start"  >,</text>
<text transform="translate(961.7 854.3) scale(1.0800 1.0000)" font-size="25.5" text-anchor="start" font-style="italic" >z</text>
<text transform="translate(975.6 859.1) scale(1.2000 1.0000)" font-size="18" text-anchor="start"  >2</text>
<text transform="translate(987.4 859.1)" font-size="18" text-anchor="start"  >,</text>
<text transform="translate(996.7 859.1) scale(1.0500 1.0000)" font-size="18" text-anchor="start" font-style="italic" >x</text>
<text transform="translate(1013.6 854.3) scale(1.3300 1.0000)" font-size="25.5" text-anchor="start"  stroke="#000" stroke-width="0.45">=</text>
<text transform="translate(1044.7 854.3) scale(1.3800 1.0000)" font-size="25.5" text-anchor="start"  stroke="#000" stroke-width="0.45">−</text>
<text transform="translate(1072.5 854.3) scale(1.0200 1.0000)" font-size="25.5" text-anchor="start"  >1</text>
<rect x="1135.4" y="834.5" width="55.5" height="21.4" fill="#f3ff3d"/>
<text transform="translate(1209.3 854.3) scale(0.9700 1.0000)" font-size="25.5" text-anchor="start" font-style="italic" >C</text>
<text transform="translate(1230.3 844) scale(0.9000 1.0000)" font-size="18" text-anchor="start" font-style="italic" >L</text>
<text transform="translate(1228.3 861.2)" font-size="18" text-anchor="start" font-weight="bold" >λ</text>
<text transform="translate(1246.7 854.3) scale(1.3100 1.0000)" font-size="25.5" text-anchor="start"  stroke="#000" stroke-width="0.45">=</text>
<text transform="translate(1272.7 854.3) scale(1.0300 1.0000)" font-size="25.5" text-anchor="start"  >0</text>
<text transform="translate(1288.6 854.3)" font-size="25.5" text-anchor="start"  >,</text>
<text transform="translate(1301.7 854.3) scale(1.0800 1.0000)" font-size="25.5" text-anchor="start" font-style="italic" >z</text>
<text transform="translate(1315.6 859.1) scale(1.2000 1.0000)" font-size="18" text-anchor="start"  >2</text>
<text transform="translate(1327.4 859.1)" font-size="18" text-anchor="start"  >,</text>
<text transform="translate(1336.7 859.1) scale(1.0500 1.0000)" font-size="18" text-anchor="start" font-style="italic" >x</text>
<text transform="translate(1353.6 854.3) scale(1.3300 1.0000)" font-size="25.5" text-anchor="start"  stroke="#000" stroke-width="0.45">=</text>
<text transform="translate(1380.3 854.3) scale(1.0200 1.0000)" font-size="25.5" text-anchor="start"  >1</text>
</svg>
</body></html>
